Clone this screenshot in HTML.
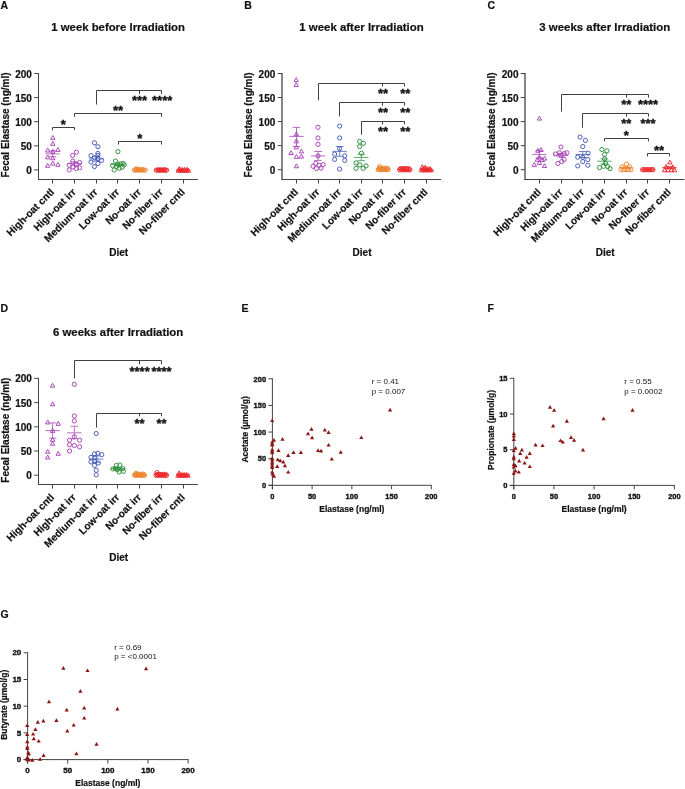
<!DOCTYPE html>
<html><head><meta charset="utf-8"><style>
html,body{margin:0;padding:0;background:#fff;}
svg{display:block;font-family:"Liberation Sans", sans-serif;}
svg{will-change:transform;}
</style></head><body>
<svg width="685" height="789" viewBox="0 0 685 789">
<rect width="685" height="789" fill="#fff"/>
<line x1="38.50" y1="73.00" x2="38.50" y2="180.00" stroke="#444444" stroke-width="1.0"/>
<line x1="38.00" y1="179.50" x2="197.80" y2="179.50" stroke="#444444" stroke-width="1.0"/>
<line x1="34.20" y1="169.90" x2="38.50" y2="169.90" stroke="#444444" stroke-width="1.0"/>
<text x="31.90" y="173.90" font-size="10" font-weight="bold" text-anchor="end" fill="#111" stroke="#111" stroke-width="0.2" >0</text>
<line x1="34.20" y1="145.80" x2="38.50" y2="145.80" stroke="#444444" stroke-width="1.0"/>
<text x="31.90" y="149.80" font-size="10" font-weight="bold" text-anchor="end" fill="#111" stroke="#111" stroke-width="0.2" >50</text>
<line x1="34.20" y1="121.70" x2="38.50" y2="121.70" stroke="#444444" stroke-width="1.0"/>
<text x="31.90" y="125.70" font-size="10" font-weight="bold" text-anchor="end" fill="#111" stroke="#111" stroke-width="0.2" >100</text>
<line x1="34.20" y1="97.60" x2="38.50" y2="97.60" stroke="#444444" stroke-width="1.0"/>
<text x="31.90" y="101.60" font-size="10" font-weight="bold" text-anchor="end" fill="#111" stroke="#111" stroke-width="0.2" >150</text>
<line x1="34.20" y1="73.50" x2="38.50" y2="73.50" stroke="#444444" stroke-width="1.0"/>
<text x="31.90" y="77.50" font-size="10" font-weight="bold" text-anchor="end" fill="#111" stroke="#111" stroke-width="0.2" >200</text>
<line x1="52.50" y1="179.50" x2="52.50" y2="183.50" stroke="#444444" stroke-width="1.0"/>
<text x="54.80" y="192.70" font-size="10.2" font-weight="bold" text-anchor="end" fill="#111" stroke="#111" stroke-width="0.2" transform="rotate(-45 54.80 192.70)">High-oat cntl</text>
<line x1="74.50" y1="179.50" x2="74.50" y2="183.50" stroke="#444444" stroke-width="1.0"/>
<text x="76.57" y="192.70" font-size="10.2" font-weight="bold" text-anchor="end" fill="#111" stroke="#111" stroke-width="0.2" transform="rotate(-45 76.57 192.70)">High-oat irr</text>
<line x1="96.50" y1="179.50" x2="96.50" y2="183.50" stroke="#444444" stroke-width="1.0"/>
<text x="98.34" y="192.70" font-size="10.2" font-weight="bold" text-anchor="end" fill="#111" stroke="#111" stroke-width="0.2" transform="rotate(-45 98.34 192.70)">Medium-oat irr</text>
<line x1="117.50" y1="179.50" x2="117.50" y2="183.50" stroke="#444444" stroke-width="1.0"/>
<text x="120.11" y="192.70" font-size="10.2" font-weight="bold" text-anchor="end" fill="#111" stroke="#111" stroke-width="0.2" transform="rotate(-45 120.11 192.70)">Low-oat irr</text>
<line x1="139.50" y1="179.50" x2="139.50" y2="183.50" stroke="#444444" stroke-width="1.0"/>
<text x="141.88" y="192.70" font-size="10.2" font-weight="bold" text-anchor="end" fill="#111" stroke="#111" stroke-width="0.2" transform="rotate(-45 141.88 192.70)">No-oat irr</text>
<line x1="161.50" y1="179.50" x2="161.50" y2="183.50" stroke="#444444" stroke-width="1.0"/>
<text x="163.65" y="192.70" font-size="10.2" font-weight="bold" text-anchor="end" fill="#111" stroke="#111" stroke-width="0.2" transform="rotate(-45 163.65 192.70)">No-fiber irr</text>
<line x1="183.50" y1="179.50" x2="183.50" y2="183.50" stroke="#444444" stroke-width="1.0"/>
<text x="185.42" y="192.70" font-size="10.2" font-weight="bold" text-anchor="end" fill="#111" stroke="#111" stroke-width="0.2" transform="rotate(-45 185.42 192.70)">No-fiber cntl</text>
<text x="8.60" y="124.90" font-size="10" font-weight="bold" text-anchor="middle" fill="#111" stroke="#111" stroke-width="0.2" transform="rotate(-90 8.60 124.90)">Fecal Elastase (ng/ml)</text>
<text x="118.65" y="256.10" font-size="10" font-weight="bold" text-anchor="middle" fill="#111" stroke="#111" stroke-width="0.2" >Diet</text>
<text x="118.15" y="31.40" font-size="11.35" font-weight="bold" text-anchor="middle" fill="#111" stroke="#111" stroke-width="0.2" >1 week before Irradiation</text>
<text x="0.40" y="8.80" font-size="10.5" font-weight="bold" text-anchor="start" fill="#111" stroke="#111" stroke-width="0.2" >A</text>
<path d="M52.80,135.50 L55.00,139.35 L50.60,139.35 Z" fill="none" stroke="#a540b5" stroke-width="0.95" stroke-linejoin="miter"/>
<path d="M52.80,141.50 L55.00,145.35 L50.60,145.35 Z" fill="none" stroke="#a540b5" stroke-width="0.95" stroke-linejoin="miter"/>
<path d="M47.70,148.20 L49.90,152.05 L45.50,152.05 Z" fill="none" stroke="#a540b5" stroke-width="0.95" stroke-linejoin="miter"/>
<path d="M52.80,149.40 L55.00,153.25 L50.60,153.25 Z" fill="none" stroke="#a540b5" stroke-width="0.95" stroke-linejoin="miter"/>
<path d="M57.90,147.50 L60.10,151.35 L55.70,151.35 Z" fill="none" stroke="#a540b5" stroke-width="0.95" stroke-linejoin="miter"/>
<path d="M47.70,155.00 L49.90,158.85 L45.50,158.85 Z" fill="none" stroke="#a540b5" stroke-width="0.95" stroke-linejoin="miter"/>
<path d="M52.80,155.90 L55.00,159.75 L50.60,159.75 Z" fill="none" stroke="#a540b5" stroke-width="0.95" stroke-linejoin="miter"/>
<path d="M47.70,163.40 L49.90,167.25 L45.50,167.25 Z" fill="none" stroke="#a540b5" stroke-width="0.95" stroke-linejoin="miter"/>
<path d="M52.80,161.20 L55.00,165.05 L50.60,165.05 Z" fill="none" stroke="#a540b5" stroke-width="0.95" stroke-linejoin="miter"/>
<path d="M57.90,162.40 L60.10,166.25 L55.70,166.25 Z" fill="none" stroke="#a540b5" stroke-width="0.95" stroke-linejoin="miter"/>
<g stroke="#a540b5" stroke-width="0.9" opacity="0.85">
<line x1="45.40" y1="153.90" x2="59.80" y2="153.90" stroke="#a540b5" stroke-width="0.9"/>
<line x1="48.80" y1="150.90" x2="56.40" y2="150.90" stroke="#a540b5" stroke-width="0.9"/>
<line x1="48.80" y1="156.80" x2="56.40" y2="156.80" stroke="#a540b5" stroke-width="0.9"/>
<line x1="52.60" y1="150.90" x2="52.60" y2="156.80" stroke="#a540b5" stroke-width="0.9"/>
</g>
<circle cx="76.40" cy="152.20" r="2.1" fill="none" stroke="#a540b5" stroke-width="0.95"/>
<circle cx="72.60" cy="155.50" r="2.1" fill="none" stroke="#a540b5" stroke-width="0.95"/>
<circle cx="72.80" cy="161.20" r="2.1" fill="none" stroke="#a540b5" stroke-width="0.95"/>
<circle cx="79.70" cy="162.50" r="2.1" fill="none" stroke="#a540b5" stroke-width="0.95"/>
<circle cx="69.20" cy="165.20" r="2.1" fill="none" stroke="#a540b5" stroke-width="0.95"/>
<circle cx="76.30" cy="164.40" r="2.1" fill="none" stroke="#a540b5" stroke-width="0.95"/>
<circle cx="73.00" cy="167.00" r="2.1" fill="none" stroke="#a540b5" stroke-width="0.95"/>
<circle cx="69.20" cy="169.90" r="2.1" fill="none" stroke="#a540b5" stroke-width="0.95"/>
<circle cx="76.30" cy="168.60" r="2.1" fill="none" stroke="#a540b5" stroke-width="0.95"/>
<circle cx="79.70" cy="167.80" r="2.1" fill="none" stroke="#a540b5" stroke-width="0.95"/>
<g stroke="#a540b5" stroke-width="0.9" opacity="0.85">
<line x1="67.17" y1="163.60" x2="81.57" y2="163.60" stroke="#a540b5" stroke-width="0.9"/>
<line x1="70.57" y1="161.80" x2="78.17" y2="161.80" stroke="#a540b5" stroke-width="0.9"/>
<line x1="70.57" y1="165.30" x2="78.17" y2="165.30" stroke="#a540b5" stroke-width="0.9"/>
<line x1="74.37" y1="161.80" x2="74.37" y2="165.30" stroke="#a540b5" stroke-width="0.9"/>
</g>
<circle cx="94.50" cy="142.80" r="2.1" fill="none" stroke="#4358b8" stroke-width="0.95"/>
<circle cx="97.90" cy="146.70" r="2.1" fill="none" stroke="#4358b8" stroke-width="0.95"/>
<circle cx="97.90" cy="153.40" r="2.1" fill="none" stroke="#4358b8" stroke-width="0.95"/>
<circle cx="91.00" cy="155.60" r="2.1" fill="none" stroke="#4358b8" stroke-width="0.95"/>
<circle cx="97.90" cy="155.40" r="2.1" fill="none" stroke="#4358b8" stroke-width="0.95"/>
<circle cx="94.50" cy="157.90" r="2.1" fill="none" stroke="#4358b8" stroke-width="0.95"/>
<circle cx="97.90" cy="158.50" r="2.1" fill="none" stroke="#4358b8" stroke-width="0.95"/>
<circle cx="101.60" cy="160.30" r="2.1" fill="none" stroke="#4358b8" stroke-width="0.95"/>
<circle cx="91.00" cy="162.10" r="2.1" fill="none" stroke="#4358b8" stroke-width="0.95"/>
<circle cx="97.90" cy="163.50" r="2.1" fill="none" stroke="#4358b8" stroke-width="0.95"/>
<circle cx="94.50" cy="166.60" r="2.1" fill="none" stroke="#4358b8" stroke-width="0.95"/>
<g stroke="#4358b8" stroke-width="0.9" opacity="0.85">
<line x1="88.94" y1="158.90" x2="103.34" y2="158.90" stroke="#4358b8" stroke-width="0.9"/>
<line x1="92.34" y1="156.60" x2="99.94" y2="156.60" stroke="#4358b8" stroke-width="0.9"/>
<line x1="92.34" y1="161.20" x2="99.94" y2="161.20" stroke="#4358b8" stroke-width="0.9"/>
<line x1="96.14" y1="156.60" x2="96.14" y2="161.20" stroke="#4358b8" stroke-width="0.9"/>
</g>
<circle cx="117.90" cy="151.60" r="2.1" fill="none" stroke="#2b8e39" stroke-width="0.95"/>
<circle cx="115.50" cy="161.00" r="2.1" fill="none" stroke="#2b8e39" stroke-width="0.95"/>
<circle cx="112.50" cy="165.60" r="2.1" fill="none" stroke="#2b8e39" stroke-width="0.95"/>
<circle cx="114.10" cy="170.00" r="2.1" fill="none" stroke="#2b8e39" stroke-width="0.95"/>
<circle cx="116.50" cy="166.60" r="2.1" fill="none" stroke="#2b8e39" stroke-width="0.95"/>
<circle cx="119.30" cy="168.40" r="2.1" fill="none" stroke="#2b8e39" stroke-width="0.95"/>
<circle cx="120.40" cy="163.80" r="2.1" fill="none" stroke="#2b8e39" stroke-width="0.95"/>
<circle cx="123.20" cy="163.50" r="2.1" fill="none" stroke="#2b8e39" stroke-width="0.95"/>
<circle cx="124.20" cy="164.90" r="2.1" fill="none" stroke="#2b8e39" stroke-width="0.95"/>
<circle cx="122.10" cy="167.30" r="2.1" fill="none" stroke="#2b8e39" stroke-width="0.95"/>
<circle cx="117.60" cy="164.20" r="2.1" fill="none" stroke="#2b8e39" stroke-width="0.95"/>
<g stroke="#2b8e39" stroke-width="0.9" opacity="0.85">
<line x1="110.71" y1="164.60" x2="125.11" y2="164.60" stroke="#2b8e39" stroke-width="0.9"/>
<line x1="114.11" y1="163.20" x2="121.71" y2="163.20" stroke="#2b8e39" stroke-width="0.9"/>
<line x1="114.11" y1="166.00" x2="121.71" y2="166.00" stroke="#2b8e39" stroke-width="0.9"/>
<line x1="117.91" y1="163.20" x2="117.91" y2="166.00" stroke="#2b8e39" stroke-width="0.9"/>
</g>
<circle cx="134.30" cy="170.10" r="2.1" fill="none" stroke="#ec8530" stroke-width="0.95"/>
<circle cx="136.13" cy="170.10" r="2.1" fill="none" stroke="#ec8530" stroke-width="0.95"/>
<circle cx="137.97" cy="170.10" r="2.1" fill="none" stroke="#ec8530" stroke-width="0.95"/>
<circle cx="139.80" cy="170.10" r="2.1" fill="none" stroke="#ec8530" stroke-width="0.95"/>
<circle cx="141.63" cy="170.10" r="2.1" fill="none" stroke="#ec8530" stroke-width="0.95"/>
<circle cx="143.47" cy="170.10" r="2.1" fill="none" stroke="#ec8530" stroke-width="0.95"/>
<circle cx="145.30" cy="170.10" r="2.1" fill="none" stroke="#ec8530" stroke-width="0.95"/>
<circle cx="136.30" cy="169.50" r="2.1" fill="none" stroke="#ec8530" stroke-width="0.95"/>
<circle cx="139.30" cy="169.50" r="2.1" fill="none" stroke="#ec8530" stroke-width="0.95"/>
<circle cx="142.30" cy="169.50" r="2.1" fill="none" stroke="#ec8530" stroke-width="0.95"/>
<circle cx="136.50" cy="168.90" r="2.1" fill="none" stroke="#ec8530" stroke-width="0.95"/>
<g stroke="#ec8530" stroke-width="0.9" opacity="0.85">
<line x1="132.48" y1="169.80" x2="146.88" y2="169.80" stroke="#ec8530" stroke-width="0.9"/>
<line x1="135.88" y1="169.60" x2="143.48" y2="169.60" stroke="#ec8530" stroke-width="0.9"/>
<line x1="135.88" y1="170.00" x2="143.48" y2="170.00" stroke="#ec8530" stroke-width="0.9"/>
<line x1="139.68" y1="169.60" x2="139.68" y2="170.00" stroke="#ec8530" stroke-width="0.9"/>
</g>
<circle cx="156.30" cy="170.20" r="2.1" fill="none" stroke="#ec2a2e" stroke-width="0.95"/>
<circle cx="158.02" cy="170.20" r="2.1" fill="none" stroke="#ec2a2e" stroke-width="0.95"/>
<circle cx="159.73" cy="170.20" r="2.1" fill="none" stroke="#ec2a2e" stroke-width="0.95"/>
<circle cx="161.45" cy="170.20" r="2.1" fill="none" stroke="#ec2a2e" stroke-width="0.95"/>
<circle cx="163.17" cy="170.20" r="2.1" fill="none" stroke="#ec2a2e" stroke-width="0.95"/>
<circle cx="164.88" cy="170.20" r="2.1" fill="none" stroke="#ec2a2e" stroke-width="0.95"/>
<circle cx="166.60" cy="170.20" r="2.1" fill="none" stroke="#ec2a2e" stroke-width="0.95"/>
<circle cx="158.30" cy="169.80" r="2.1" fill="none" stroke="#ec2a2e" stroke-width="0.95"/>
<circle cx="161.45" cy="169.80" r="2.1" fill="none" stroke="#ec2a2e" stroke-width="0.95"/>
<circle cx="164.60" cy="169.80" r="2.1" fill="none" stroke="#ec2a2e" stroke-width="0.95"/>
<g stroke="#ec2a2e" stroke-width="0.9" opacity="0.85">
<line x1="154.25" y1="169.80" x2="168.65" y2="169.80" stroke="#ec2a2e" stroke-width="0.9"/>
<line x1="157.65" y1="169.60" x2="165.25" y2="169.60" stroke="#ec2a2e" stroke-width="0.9"/>
<line x1="157.65" y1="170.00" x2="165.25" y2="170.00" stroke="#ec2a2e" stroke-width="0.9"/>
<line x1="161.45" y1="169.60" x2="161.45" y2="170.00" stroke="#ec2a2e" stroke-width="0.9"/>
</g>
<path d="M178.30,168.30 L180.50,172.15 L176.10,172.15 Z" fill="none" stroke="#ec2a2e" stroke-width="0.95" stroke-linejoin="miter"/>
<path d="M180.34,168.30 L182.54,172.15 L178.14,172.15 Z" fill="none" stroke="#ec2a2e" stroke-width="0.95" stroke-linejoin="miter"/>
<path d="M182.38,168.30 L184.58,172.15 L180.18,172.15 Z" fill="none" stroke="#ec2a2e" stroke-width="0.95" stroke-linejoin="miter"/>
<path d="M184.42,168.30 L186.62,172.15 L182.22,172.15 Z" fill="none" stroke="#ec2a2e" stroke-width="0.95" stroke-linejoin="miter"/>
<path d="M186.46,168.30 L188.66,172.15 L184.26,172.15 Z" fill="none" stroke="#ec2a2e" stroke-width="0.95" stroke-linejoin="miter"/>
<path d="M188.50,168.30 L190.70,172.15 L186.30,172.15 Z" fill="none" stroke="#ec2a2e" stroke-width="0.95" stroke-linejoin="miter"/>
<path d="M179.50,167.30 L181.70,171.15 L177.30,171.15 Z" fill="none" stroke="#ec2a2e" stroke-width="0.95" stroke-linejoin="miter"/>
<path d="M182.00,167.30 L184.20,171.15 L179.80,171.15 Z" fill="none" stroke="#ec2a2e" stroke-width="0.95" stroke-linejoin="miter"/>
<path d="M184.50,167.30 L186.70,171.15 L182.30,171.15 Z" fill="none" stroke="#ec2a2e" stroke-width="0.95" stroke-linejoin="miter"/>
<path d="M187.00,167.30 L189.20,171.15 L184.80,171.15 Z" fill="none" stroke="#ec2a2e" stroke-width="0.95" stroke-linejoin="miter"/>
<path d="M179.30,166.60 L181.50,170.45 L177.10,170.45 Z" fill="none" stroke="#ec2a2e" stroke-width="0.95" stroke-linejoin="miter"/>
<g stroke="#ec2a2e" stroke-width="0.9" opacity="0.85">
<line x1="176.02" y1="169.80" x2="190.42" y2="169.80" stroke="#ec2a2e" stroke-width="0.9"/>
<line x1="179.42" y1="169.60" x2="187.02" y2="169.60" stroke="#ec2a2e" stroke-width="0.9"/>
<line x1="179.42" y1="170.00" x2="187.02" y2="170.00" stroke="#ec2a2e" stroke-width="0.9"/>
<line x1="183.22" y1="169.60" x2="183.22" y2="170.00" stroke="#ec2a2e" stroke-width="0.9"/>
</g>
<path d="M52.50,130.20 L52.50,127.50 L74.50,127.50 L74.50,130.20" fill="none" stroke="#404040" stroke-width="1.0"/>
<path d="M74.50,116.80 L74.50,113.50 L161.50,113.50 L161.50,116.80" fill="none" stroke="#404040" stroke-width="1.0"/>
<path d="M96.50,104.50 L96.50,90.50 L161.50,90.50 L161.50,94.00" fill="none" stroke="#404040" stroke-width="1.0"/>
<line x1="139.50" y1="90.50" x2="139.50" y2="94.00" stroke="#404040" stroke-width="1.0"/>
<path d="M118.50,144.50 L118.50,141.50 L161.50,141.50 L161.50,144.50" fill="none" stroke="#404040" stroke-width="1.0"/>
<text x="63.40" y="128.90" font-size="13" font-weight="bold" text-anchor="middle" fill="#111" stroke="#111" stroke-width="0.35" >*</text>
<text x="118.00" y="115.20" font-size="13" font-weight="bold" text-anchor="middle" fill="#111" stroke="#111" stroke-width="0.35" >**</text>
<text x="139.60" y="104.90" font-size="13" font-weight="bold" text-anchor="middle" fill="#111" stroke="#111" stroke-width="0.35" >***</text>
<text x="162.20" y="104.90" font-size="13" font-weight="bold" text-anchor="middle" fill="#111" stroke="#111" stroke-width="0.35" >****</text>
<text x="139.70" y="143.30" font-size="13" font-weight="bold" text-anchor="middle" fill="#111" stroke="#111" stroke-width="0.35" >*</text>
<line x1="282.00" y1="73.00" x2="282.00" y2="180.00" stroke="#444444" stroke-width="1.3"/>
<line x1="281.50" y1="179.50" x2="441.10" y2="179.50" stroke="#444444" stroke-width="1.0"/>
<line x1="277.70" y1="169.70" x2="282.00" y2="169.70" stroke="#444444" stroke-width="1.0"/>
<text x="275.30" y="173.70" font-size="10" font-weight="bold" text-anchor="end" fill="#111" stroke="#111" stroke-width="0.2" >0</text>
<line x1="277.70" y1="145.65" x2="282.00" y2="145.65" stroke="#444444" stroke-width="1.0"/>
<text x="275.30" y="149.65" font-size="10" font-weight="bold" text-anchor="end" fill="#111" stroke="#111" stroke-width="0.2" >50</text>
<line x1="277.70" y1="121.60" x2="282.00" y2="121.60" stroke="#444444" stroke-width="1.0"/>
<text x="275.30" y="125.60" font-size="10" font-weight="bold" text-anchor="end" fill="#111" stroke="#111" stroke-width="0.2" >100</text>
<line x1="277.70" y1="97.55" x2="282.00" y2="97.55" stroke="#444444" stroke-width="1.0"/>
<text x="275.30" y="101.55" font-size="10" font-weight="bold" text-anchor="end" fill="#111" stroke="#111" stroke-width="0.2" >150</text>
<line x1="277.70" y1="73.50" x2="282.00" y2="73.50" stroke="#444444" stroke-width="1.0"/>
<text x="275.30" y="77.50" font-size="10" font-weight="bold" text-anchor="end" fill="#111" stroke="#111" stroke-width="0.2" >200</text>
<line x1="296.50" y1="179.50" x2="296.50" y2="183.50" stroke="#444444" stroke-width="1.0"/>
<text x="298.70" y="192.70" font-size="10.2" font-weight="bold" text-anchor="end" fill="#111" stroke="#111" stroke-width="0.2" transform="rotate(-45 298.70 192.70)">High-oat cntl</text>
<line x1="318.50" y1="179.50" x2="318.50" y2="183.50" stroke="#444444" stroke-width="1.0"/>
<text x="320.30" y="192.70" font-size="10.2" font-weight="bold" text-anchor="end" fill="#111" stroke="#111" stroke-width="0.2" transform="rotate(-45 320.30 192.70)">High-oat irr</text>
<line x1="339.50" y1="179.50" x2="339.50" y2="183.50" stroke="#444444" stroke-width="1.0"/>
<text x="341.90" y="192.70" font-size="10.2" font-weight="bold" text-anchor="end" fill="#111" stroke="#111" stroke-width="0.2" transform="rotate(-45 341.90 192.70)">Medium-oat irr</text>
<line x1="361.50" y1="179.50" x2="361.50" y2="183.50" stroke="#444444" stroke-width="1.0"/>
<text x="363.50" y="192.70" font-size="10.2" font-weight="bold" text-anchor="end" fill="#111" stroke="#111" stroke-width="0.2" transform="rotate(-45 363.50 192.70)">Low-oat irr</text>
<line x1="382.50" y1="179.50" x2="382.50" y2="183.50" stroke="#444444" stroke-width="1.0"/>
<text x="385.10" y="192.70" font-size="10.2" font-weight="bold" text-anchor="end" fill="#111" stroke="#111" stroke-width="0.2" transform="rotate(-45 385.10 192.70)">No-oat irr</text>
<line x1="404.50" y1="179.50" x2="404.50" y2="183.50" stroke="#444444" stroke-width="1.0"/>
<text x="406.70" y="192.70" font-size="10.2" font-weight="bold" text-anchor="end" fill="#111" stroke="#111" stroke-width="0.2" transform="rotate(-45 406.70 192.70)">No-fiber irr</text>
<line x1="426.50" y1="179.50" x2="426.50" y2="183.50" stroke="#444444" stroke-width="1.0"/>
<text x="428.30" y="192.70" font-size="10.2" font-weight="bold" text-anchor="end" fill="#111" stroke="#111" stroke-width="0.2" transform="rotate(-45 428.30 192.70)">No-fiber cntl</text>
<text x="251.60" y="124.90" font-size="10" font-weight="bold" text-anchor="middle" fill="#111" stroke="#111" stroke-width="0.2" transform="rotate(-90 251.60 124.90)">Fecal Elastase (ng/ml)</text>
<text x="362.05" y="256.10" font-size="10" font-weight="bold" text-anchor="middle" fill="#111" stroke="#111" stroke-width="0.2" >Diet</text>
<text x="361.55" y="31.40" font-size="11.43" font-weight="bold" text-anchor="middle" fill="#111" stroke="#111" stroke-width="0.2" >1 week after Irradiation</text>
<text x="244.30" y="8.80" font-size="10.5" font-weight="bold" text-anchor="start" fill="#111" stroke="#111" stroke-width="0.2" >B</text>
<path d="M296.20,77.80 L298.40,81.65 L294.00,81.65 Z" fill="none" stroke="#a540b5" stroke-width="0.95" stroke-linejoin="miter"/>
<path d="M296.20,82.60 L298.40,86.45 L294.00,86.45 Z" fill="none" stroke="#a540b5" stroke-width="0.95" stroke-linejoin="miter"/>
<path d="M296.40,131.90 L298.60,135.75 L294.20,135.75 Z" fill="none" stroke="#a540b5" stroke-width="0.95" stroke-linejoin="miter"/>
<path d="M296.40,139.00 L298.60,142.85 L294.20,142.85 Z" fill="none" stroke="#a540b5" stroke-width="0.95" stroke-linejoin="miter"/>
<path d="M296.40,145.10 L298.60,148.95 L294.20,148.95 Z" fill="none" stroke="#a540b5" stroke-width="0.95" stroke-linejoin="miter"/>
<path d="M291.10,150.70 L293.30,154.55 L288.90,154.55 Z" fill="none" stroke="#a540b5" stroke-width="0.95" stroke-linejoin="miter"/>
<path d="M301.40,149.10 L303.60,152.95 L299.20,152.95 Z" fill="none" stroke="#a540b5" stroke-width="0.95" stroke-linejoin="miter"/>
<path d="M296.40,154.50 L298.60,158.35 L294.20,158.35 Z" fill="none" stroke="#a540b5" stroke-width="0.95" stroke-linejoin="miter"/>
<path d="M301.40,154.20 L303.60,158.05 L299.20,158.05 Z" fill="none" stroke="#a540b5" stroke-width="0.95" stroke-linejoin="miter"/>
<path d="M296.40,163.90 L298.60,167.75 L294.20,167.75 Z" fill="none" stroke="#a540b5" stroke-width="0.95" stroke-linejoin="miter"/>
<g stroke="#a540b5" stroke-width="0.9" opacity="0.85">
<line x1="289.30" y1="136.40" x2="303.70" y2="136.40" stroke="#a540b5" stroke-width="0.9"/>
<line x1="292.70" y1="127.40" x2="300.30" y2="127.40" stroke="#a540b5" stroke-width="0.9"/>
<line x1="292.70" y1="146.50" x2="300.30" y2="146.50" stroke="#a540b5" stroke-width="0.9"/>
<line x1="296.50" y1="127.40" x2="296.50" y2="146.50" stroke="#a540b5" stroke-width="0.9"/>
</g>
<circle cx="318.00" cy="127.30" r="2.1" fill="none" stroke="#a540b5" stroke-width="0.95"/>
<circle cx="318.00" cy="138.00" r="2.1" fill="none" stroke="#a540b5" stroke-width="0.95"/>
<circle cx="318.00" cy="144.40" r="2.1" fill="none" stroke="#a540b5" stroke-width="0.95"/>
<circle cx="318.00" cy="155.90" r="2.1" fill="none" stroke="#a540b5" stroke-width="0.95"/>
<circle cx="313.00" cy="166.30" r="2.1" fill="none" stroke="#a540b5" stroke-width="0.95"/>
<circle cx="315.80" cy="163.20" r="2.1" fill="none" stroke="#a540b5" stroke-width="0.95"/>
<circle cx="319.20" cy="165.30" r="2.1" fill="none" stroke="#a540b5" stroke-width="0.95"/>
<circle cx="323.10" cy="164.60" r="2.1" fill="none" stroke="#a540b5" stroke-width="0.95"/>
<circle cx="321.00" cy="168.10" r="2.1" fill="none" stroke="#a540b5" stroke-width="0.95"/>
<circle cx="316.50" cy="168.50" r="2.1" fill="none" stroke="#a540b5" stroke-width="0.95"/>
<g stroke="#a540b5" stroke-width="0.9" opacity="0.85">
<line x1="310.90" y1="155.90" x2="325.30" y2="155.90" stroke="#a540b5" stroke-width="0.9"/>
<line x1="314.30" y1="151.50" x2="321.90" y2="151.50" stroke="#a540b5" stroke-width="0.9"/>
<line x1="314.30" y1="160.40" x2="321.90" y2="160.40" stroke="#a540b5" stroke-width="0.9"/>
<line x1="318.10" y1="151.50" x2="318.10" y2="160.40" stroke="#a540b5" stroke-width="0.9"/>
</g>
<circle cx="339.60" cy="126.10" r="2.1" fill="none" stroke="#4358b8" stroke-width="0.95"/>
<circle cx="339.60" cy="138.00" r="2.1" fill="none" stroke="#4358b8" stroke-width="0.95"/>
<circle cx="339.60" cy="148.60" r="2.1" fill="none" stroke="#4358b8" stroke-width="0.95"/>
<circle cx="334.60" cy="154.10" r="2.1" fill="none" stroke="#4358b8" stroke-width="0.95"/>
<circle cx="334.60" cy="159.40" r="2.1" fill="none" stroke="#4358b8" stroke-width="0.95"/>
<circle cx="344.70" cy="155.90" r="2.1" fill="none" stroke="#4358b8" stroke-width="0.95"/>
<circle cx="344.70" cy="160.40" r="2.1" fill="none" stroke="#4358b8" stroke-width="0.95"/>
<circle cx="339.60" cy="169.10" r="2.1" fill="none" stroke="#4358b8" stroke-width="0.95"/>
<g stroke="#4358b8" stroke-width="0.9" opacity="0.85">
<line x1="332.50" y1="151.40" x2="346.90" y2="151.40" stroke="#4358b8" stroke-width="0.9"/>
<line x1="335.90" y1="146.50" x2="343.50" y2="146.50" stroke="#4358b8" stroke-width="0.9"/>
<line x1="335.90" y1="156.30" x2="343.50" y2="156.30" stroke="#4358b8" stroke-width="0.9"/>
<line x1="339.70" y1="146.50" x2="339.70" y2="156.30" stroke="#4358b8" stroke-width="0.9"/>
</g>
<circle cx="359.60" cy="141.40" r="2.1" fill="none" stroke="#2b8e39" stroke-width="0.95"/>
<circle cx="363.40" cy="143.30" r="2.1" fill="none" stroke="#2b8e39" stroke-width="0.95"/>
<circle cx="359.60" cy="146.50" r="2.1" fill="none" stroke="#2b8e39" stroke-width="0.95"/>
<circle cx="361.40" cy="153.20" r="2.1" fill="none" stroke="#2b8e39" stroke-width="0.95"/>
<circle cx="356.10" cy="162.90" r="2.1" fill="none" stroke="#2b8e39" stroke-width="0.95"/>
<circle cx="359.80" cy="164.90" r="2.1" fill="none" stroke="#2b8e39" stroke-width="0.95"/>
<circle cx="366.10" cy="165.90" r="2.1" fill="none" stroke="#2b8e39" stroke-width="0.95"/>
<circle cx="356.10" cy="168.30" r="2.1" fill="none" stroke="#2b8e39" stroke-width="0.95"/>
<circle cx="363.10" cy="168.30" r="2.1" fill="none" stroke="#2b8e39" stroke-width="0.95"/>
<g stroke="#2b8e39" stroke-width="0.9" opacity="0.85">
<line x1="354.10" y1="157.40" x2="368.50" y2="157.40" stroke="#2b8e39" stroke-width="0.9"/>
<line x1="357.50" y1="154.20" x2="365.10" y2="154.20" stroke="#2b8e39" stroke-width="0.9"/>
<line x1="357.50" y1="160.70" x2="365.10" y2="160.70" stroke="#2b8e39" stroke-width="0.9"/>
<line x1="361.30" y1="154.20" x2="361.30" y2="160.70" stroke="#2b8e39" stroke-width="0.9"/>
</g>
<circle cx="378.20" cy="169.60" r="2.1" fill="none" stroke="#ec8530" stroke-width="0.95"/>
<circle cx="379.87" cy="169.60" r="2.1" fill="none" stroke="#ec8530" stroke-width="0.95"/>
<circle cx="381.53" cy="169.60" r="2.1" fill="none" stroke="#ec8530" stroke-width="0.95"/>
<circle cx="383.20" cy="169.60" r="2.1" fill="none" stroke="#ec8530" stroke-width="0.95"/>
<circle cx="384.87" cy="169.60" r="2.1" fill="none" stroke="#ec8530" stroke-width="0.95"/>
<circle cx="386.53" cy="169.60" r="2.1" fill="none" stroke="#ec8530" stroke-width="0.95"/>
<circle cx="388.20" cy="169.60" r="2.1" fill="none" stroke="#ec8530" stroke-width="0.95"/>
<circle cx="379.40" cy="168.30" r="2.1" fill="none" stroke="#ec8530" stroke-width="0.95"/>
<circle cx="381.40" cy="168.30" r="2.1" fill="none" stroke="#ec8530" stroke-width="0.95"/>
<circle cx="383.40" cy="168.30" r="2.1" fill="none" stroke="#ec8530" stroke-width="0.95"/>
<circle cx="385.40" cy="168.30" r="2.1" fill="none" stroke="#ec8530" stroke-width="0.95"/>
<circle cx="387.40" cy="168.30" r="2.1" fill="none" stroke="#ec8530" stroke-width="0.95"/>
<circle cx="379.60" cy="166.60" r="2.1" fill="none" stroke="#ec8530" stroke-width="0.95"/>
<g stroke="#ec8530" stroke-width="0.9" opacity="0.85">
<line x1="375.70" y1="169.50" x2="390.10" y2="169.50" stroke="#ec8530" stroke-width="0.9"/>
<line x1="379.10" y1="169.30" x2="386.70" y2="169.30" stroke="#ec8530" stroke-width="0.9"/>
<line x1="379.10" y1="169.70" x2="386.70" y2="169.70" stroke="#ec8530" stroke-width="0.9"/>
<line x1="382.90" y1="169.30" x2="382.90" y2="169.70" stroke="#ec8530" stroke-width="0.9"/>
</g>
<circle cx="399.60" cy="169.80" r="2.1" fill="none" stroke="#ec2a2e" stroke-width="0.95"/>
<circle cx="401.33" cy="169.80" r="2.1" fill="none" stroke="#ec2a2e" stroke-width="0.95"/>
<circle cx="403.07" cy="169.80" r="2.1" fill="none" stroke="#ec2a2e" stroke-width="0.95"/>
<circle cx="404.80" cy="169.80" r="2.1" fill="none" stroke="#ec2a2e" stroke-width="0.95"/>
<circle cx="406.53" cy="169.80" r="2.1" fill="none" stroke="#ec2a2e" stroke-width="0.95"/>
<circle cx="408.27" cy="169.80" r="2.1" fill="none" stroke="#ec2a2e" stroke-width="0.95"/>
<circle cx="410.00" cy="169.80" r="2.1" fill="none" stroke="#ec2a2e" stroke-width="0.95"/>
<circle cx="400.60" cy="168.60" r="2.1" fill="none" stroke="#ec2a2e" stroke-width="0.95"/>
<circle cx="402.60" cy="168.60" r="2.1" fill="none" stroke="#ec2a2e" stroke-width="0.95"/>
<circle cx="404.60" cy="168.60" r="2.1" fill="none" stroke="#ec2a2e" stroke-width="0.95"/>
<circle cx="406.60" cy="168.60" r="2.1" fill="none" stroke="#ec2a2e" stroke-width="0.95"/>
<circle cx="408.60" cy="168.60" r="2.1" fill="none" stroke="#ec2a2e" stroke-width="0.95"/>
<g stroke="#ec2a2e" stroke-width="0.9" opacity="0.85">
<line x1="397.30" y1="169.60" x2="411.70" y2="169.60" stroke="#ec2a2e" stroke-width="0.9"/>
<line x1="400.70" y1="169.40" x2="408.30" y2="169.40" stroke="#ec2a2e" stroke-width="0.9"/>
<line x1="400.70" y1="169.80" x2="408.30" y2="169.80" stroke="#ec2a2e" stroke-width="0.9"/>
<line x1="404.50" y1="169.40" x2="404.50" y2="169.80" stroke="#ec2a2e" stroke-width="0.9"/>
</g>
<path d="M421.50,167.90 L423.70,171.75 L419.30,171.75 Z" fill="none" stroke="#ec2a2e" stroke-width="0.95" stroke-linejoin="miter"/>
<path d="M423.46,167.90 L425.66,171.75 L421.26,171.75 Z" fill="none" stroke="#ec2a2e" stroke-width="0.95" stroke-linejoin="miter"/>
<path d="M425.42,167.90 L427.62,171.75 L423.22,171.75 Z" fill="none" stroke="#ec2a2e" stroke-width="0.95" stroke-linejoin="miter"/>
<path d="M427.38,167.90 L429.58,171.75 L425.18,171.75 Z" fill="none" stroke="#ec2a2e" stroke-width="0.95" stroke-linejoin="miter"/>
<path d="M429.34,167.90 L431.54,171.75 L427.14,171.75 Z" fill="none" stroke="#ec2a2e" stroke-width="0.95" stroke-linejoin="miter"/>
<path d="M431.30,167.90 L433.50,171.75 L429.10,171.75 Z" fill="none" stroke="#ec2a2e" stroke-width="0.95" stroke-linejoin="miter"/>
<path d="M423.00,166.50 L425.20,170.35 L420.80,170.35 Z" fill="none" stroke="#ec2a2e" stroke-width="0.95" stroke-linejoin="miter"/>
<path d="M425.33,166.50 L427.53,170.35 L423.13,170.35 Z" fill="none" stroke="#ec2a2e" stroke-width="0.95" stroke-linejoin="miter"/>
<path d="M427.67,166.50 L429.87,170.35 L425.47,170.35 Z" fill="none" stroke="#ec2a2e" stroke-width="0.95" stroke-linejoin="miter"/>
<path d="M430.00,166.50 L432.20,170.35 L427.80,170.35 Z" fill="none" stroke="#ec2a2e" stroke-width="0.95" stroke-linejoin="miter"/>
<path d="M422.20,164.70 L424.40,168.55 L420.00,168.55 Z" fill="none" stroke="#ec2a2e" stroke-width="0.95" stroke-linejoin="miter"/>
<path d="M425.20,165.30 L427.40,169.15 L423.00,169.15 Z" fill="none" stroke="#ec2a2e" stroke-width="0.95" stroke-linejoin="miter"/>
<g stroke="#ec2a2e" stroke-width="0.9" opacity="0.85">
<line x1="418.90" y1="169.50" x2="433.30" y2="169.50" stroke="#ec2a2e" stroke-width="0.9"/>
<line x1="422.30" y1="169.30" x2="429.90" y2="169.30" stroke="#ec2a2e" stroke-width="0.9"/>
<line x1="422.30" y1="169.70" x2="429.90" y2="169.70" stroke="#ec2a2e" stroke-width="0.9"/>
<line x1="426.10" y1="169.30" x2="426.10" y2="169.70" stroke="#ec2a2e" stroke-width="0.9"/>
</g>
<path d="M318.50,100.30 L318.50,83.50 L404.50,83.50 L404.50,86.50" fill="none" stroke="#404040" stroke-width="1.0"/>
<line x1="382.50" y1="83.50" x2="382.50" y2="86.50" stroke="#404040" stroke-width="1.0"/>
<path d="M339.50,116.40 L339.50,102.50 L404.50,102.50 L404.50,105.70" fill="none" stroke="#404040" stroke-width="1.0"/>
<line x1="382.50" y1="102.50" x2="382.50" y2="105.70" stroke="#404040" stroke-width="1.0"/>
<path d="M361.50,134.80 L361.50,121.50 L404.50,121.50 L404.50,124.40" fill="none" stroke="#404040" stroke-width="1.0"/>
<line x1="382.50" y1="121.50" x2="382.50" y2="124.40" stroke="#404040" stroke-width="1.0"/>
<text x="383.00" y="97.60" font-size="13" font-weight="bold" text-anchor="middle" fill="#111" stroke="#111" stroke-width="0.35" >**</text>
<text x="405.30" y="97.60" font-size="13" font-weight="bold" text-anchor="middle" fill="#111" stroke="#111" stroke-width="0.35" >**</text>
<text x="383.00" y="117.00" font-size="13" font-weight="bold" text-anchor="middle" fill="#111" stroke="#111" stroke-width="0.35" >**</text>
<text x="405.30" y="117.00" font-size="13" font-weight="bold" text-anchor="middle" fill="#111" stroke="#111" stroke-width="0.35" >**</text>
<text x="383.00" y="135.70" font-size="13" font-weight="bold" text-anchor="middle" fill="#111" stroke="#111" stroke-width="0.35" >**</text>
<text x="405.30" y="135.70" font-size="13" font-weight="bold" text-anchor="middle" fill="#111" stroke="#111" stroke-width="0.35" >**</text>
<line x1="525.00" y1="73.00" x2="525.00" y2="180.00" stroke="#444444" stroke-width="1.3"/>
<line x1="524.50" y1="179.50" x2="684.50" y2="179.50" stroke="#444444" stroke-width="1.0"/>
<line x1="520.70" y1="169.70" x2="525.00" y2="169.70" stroke="#444444" stroke-width="1.0"/>
<text x="518.50" y="173.70" font-size="10" font-weight="bold" text-anchor="end" fill="#111" stroke="#111" stroke-width="0.2" >0</text>
<line x1="520.70" y1="145.65" x2="525.00" y2="145.65" stroke="#444444" stroke-width="1.0"/>
<text x="518.50" y="149.65" font-size="10" font-weight="bold" text-anchor="end" fill="#111" stroke="#111" stroke-width="0.2" >50</text>
<line x1="520.70" y1="121.60" x2="525.00" y2="121.60" stroke="#444444" stroke-width="1.0"/>
<text x="518.50" y="125.60" font-size="10" font-weight="bold" text-anchor="end" fill="#111" stroke="#111" stroke-width="0.2" >100</text>
<line x1="520.70" y1="97.55" x2="525.00" y2="97.55" stroke="#444444" stroke-width="1.0"/>
<text x="518.50" y="101.55" font-size="10" font-weight="bold" text-anchor="end" fill="#111" stroke="#111" stroke-width="0.2" >150</text>
<line x1="520.70" y1="73.50" x2="525.00" y2="73.50" stroke="#444444" stroke-width="1.0"/>
<text x="518.50" y="77.50" font-size="10" font-weight="bold" text-anchor="end" fill="#111" stroke="#111" stroke-width="0.2" >200</text>
<line x1="539.50" y1="179.50" x2="539.50" y2="183.50" stroke="#444444" stroke-width="1.0"/>
<text x="541.60" y="192.80" font-size="10.2" font-weight="bold" text-anchor="end" fill="#111" stroke="#111" stroke-width="0.2" transform="rotate(-45 541.60 192.80)">High-oat cntl</text>
<line x1="561.50" y1="179.50" x2="561.50" y2="183.50" stroke="#444444" stroke-width="1.0"/>
<text x="563.27" y="192.80" font-size="10.2" font-weight="bold" text-anchor="end" fill="#111" stroke="#111" stroke-width="0.2" transform="rotate(-45 563.27 192.80)">High-oat irr</text>
<line x1="582.50" y1="179.50" x2="582.50" y2="183.50" stroke="#444444" stroke-width="1.0"/>
<text x="584.94" y="192.80" font-size="10.2" font-weight="bold" text-anchor="end" fill="#111" stroke="#111" stroke-width="0.2" transform="rotate(-45 584.94 192.80)">Medium-oat irr</text>
<line x1="604.50" y1="179.50" x2="604.50" y2="183.50" stroke="#444444" stroke-width="1.0"/>
<text x="606.61" y="192.80" font-size="10.2" font-weight="bold" text-anchor="end" fill="#111" stroke="#111" stroke-width="0.2" transform="rotate(-45 606.61 192.80)">Low-oat irr</text>
<line x1="626.50" y1="179.50" x2="626.50" y2="183.50" stroke="#444444" stroke-width="1.0"/>
<text x="628.28" y="192.80" font-size="10.2" font-weight="bold" text-anchor="end" fill="#111" stroke="#111" stroke-width="0.2" transform="rotate(-45 628.28 192.80)">No-oat irr</text>
<line x1="647.50" y1="179.50" x2="647.50" y2="183.50" stroke="#444444" stroke-width="1.0"/>
<text x="649.95" y="192.80" font-size="10.2" font-weight="bold" text-anchor="end" fill="#111" stroke="#111" stroke-width="0.2" transform="rotate(-45 649.95 192.80)">No-fiber irr</text>
<line x1="669.50" y1="179.50" x2="669.50" y2="183.50" stroke="#444444" stroke-width="1.0"/>
<text x="671.62" y="192.80" font-size="10.2" font-weight="bold" text-anchor="end" fill="#111" stroke="#111" stroke-width="0.2" transform="rotate(-45 671.62 192.80)">No-fiber cntl</text>
<text x="494.60" y="124.90" font-size="10" font-weight="bold" text-anchor="middle" fill="#111" stroke="#111" stroke-width="0.2" transform="rotate(-90 494.60 124.90)">Fecal Elastase (ng/ml)</text>
<text x="605.25" y="256.10" font-size="10" font-weight="bold" text-anchor="middle" fill="#111" stroke="#111" stroke-width="0.2" >Diet</text>
<text x="604.75" y="31.40" font-size="11.44" font-weight="bold" text-anchor="middle" fill="#111" stroke="#111" stroke-width="0.2" >3 weeks after Irradiation</text>
<text x="487.50" y="8.80" font-size="10.5" font-weight="bold" text-anchor="start" fill="#111" stroke="#111" stroke-width="0.2" >C</text>
<path d="M539.40,116.20 L541.60,120.05 L537.20,120.05 Z" fill="none" stroke="#a540b5" stroke-width="0.95" stroke-linejoin="miter"/>
<path d="M537.80,148.40 L540.00,152.25 L535.60,152.25 Z" fill="none" stroke="#a540b5" stroke-width="0.95" stroke-linejoin="miter"/>
<path d="M541.00,147.60 L543.20,151.45 L538.80,151.45 Z" fill="none" stroke="#a540b5" stroke-width="0.95" stroke-linejoin="miter"/>
<path d="M544.50,156.20 L546.70,160.05 L542.30,160.05 Z" fill="none" stroke="#a540b5" stroke-width="0.95" stroke-linejoin="miter"/>
<path d="M539.40,155.10 L541.60,158.95 L537.20,158.95 Z" fill="none" stroke="#a540b5" stroke-width="0.95" stroke-linejoin="miter"/>
<path d="M537.40,157.40 L539.60,161.25 L535.20,161.25 Z" fill="none" stroke="#a540b5" stroke-width="0.95" stroke-linejoin="miter"/>
<path d="M542.20,157.80 L544.40,161.65 L540.00,161.65 Z" fill="none" stroke="#a540b5" stroke-width="0.95" stroke-linejoin="miter"/>
<path d="M534.30,162.50 L536.50,166.35 L532.10,166.35 Z" fill="none" stroke="#a540b5" stroke-width="0.95" stroke-linejoin="miter"/>
<path d="M544.50,163.70 L546.70,167.55 L542.30,167.55 Z" fill="none" stroke="#a540b5" stroke-width="0.95" stroke-linejoin="miter"/>
<path d="M539.40,160.60 L541.60,164.45 L537.20,164.45 Z" fill="none" stroke="#a540b5" stroke-width="0.95" stroke-linejoin="miter"/>
<g stroke="#a540b5" stroke-width="0.9" opacity="0.85">
<line x1="532.20" y1="154.40" x2="546.60" y2="154.40" stroke="#a540b5" stroke-width="0.9"/>
<line x1="535.60" y1="150.70" x2="543.20" y2="150.70" stroke="#a540b5" stroke-width="0.9"/>
<line x1="535.60" y1="158.10" x2="543.20" y2="158.10" stroke="#a540b5" stroke-width="0.9"/>
<line x1="539.40" y1="150.70" x2="539.40" y2="158.10" stroke="#a540b5" stroke-width="0.9"/>
</g>
<circle cx="561.00" cy="147.00" r="2.1" fill="none" stroke="#a540b5" stroke-width="0.95"/>
<circle cx="555.50" cy="154.00" r="2.1" fill="none" stroke="#a540b5" stroke-width="0.95"/>
<circle cx="559.40" cy="152.80" r="2.1" fill="none" stroke="#a540b5" stroke-width="0.95"/>
<circle cx="564.20" cy="153.60" r="2.1" fill="none" stroke="#a540b5" stroke-width="0.95"/>
<circle cx="566.90" cy="152.80" r="2.1" fill="none" stroke="#a540b5" stroke-width="0.95"/>
<circle cx="561.00" cy="155.60" r="2.1" fill="none" stroke="#a540b5" stroke-width="0.95"/>
<circle cx="564.20" cy="159.50" r="2.1" fill="none" stroke="#a540b5" stroke-width="0.95"/>
<circle cx="561.80" cy="161.50" r="2.1" fill="none" stroke="#a540b5" stroke-width="0.95"/>
<circle cx="557.90" cy="163.50" r="2.1" fill="none" stroke="#a540b5" stroke-width="0.95"/>
<g stroke="#a540b5" stroke-width="0.9" opacity="0.85">
<line x1="553.87" y1="155.20" x2="568.27" y2="155.20" stroke="#a540b5" stroke-width="0.9"/>
<line x1="557.27" y1="153.40" x2="564.87" y2="153.40" stroke="#a540b5" stroke-width="0.9"/>
<line x1="557.27" y1="157.00" x2="564.87" y2="157.00" stroke="#a540b5" stroke-width="0.9"/>
<line x1="561.07" y1="153.40" x2="561.07" y2="157.00" stroke="#a540b5" stroke-width="0.9"/>
</g>
<circle cx="580.10" cy="137.10" r="2.1" fill="none" stroke="#4358b8" stroke-width="0.95"/>
<circle cx="585.40" cy="140.40" r="2.1" fill="none" stroke="#4358b8" stroke-width="0.95"/>
<circle cx="582.80" cy="146.50" r="2.1" fill="none" stroke="#4358b8" stroke-width="0.95"/>
<circle cx="588.10" cy="153.20" r="2.1" fill="none" stroke="#4358b8" stroke-width="0.95"/>
<circle cx="577.70" cy="157.20" r="2.1" fill="none" stroke="#4358b8" stroke-width="0.95"/>
<circle cx="582.80" cy="157.20" r="2.1" fill="none" stroke="#4358b8" stroke-width="0.95"/>
<circle cx="587.80" cy="159.50" r="2.1" fill="none" stroke="#4358b8" stroke-width="0.95"/>
<circle cx="582.80" cy="161.60" r="2.1" fill="none" stroke="#4358b8" stroke-width="0.95"/>
<circle cx="577.70" cy="165.90" r="2.1" fill="none" stroke="#4358b8" stroke-width="0.95"/>
<circle cx="587.80" cy="165.30" r="2.1" fill="none" stroke="#4358b8" stroke-width="0.95"/>
<g stroke="#4358b8" stroke-width="0.9" opacity="0.85">
<line x1="575.54" y1="154.50" x2="589.94" y2="154.50" stroke="#4358b8" stroke-width="0.9"/>
<line x1="578.94" y1="151.50" x2="586.54" y2="151.50" stroke="#4358b8" stroke-width="0.9"/>
<line x1="578.94" y1="157.50" x2="586.54" y2="157.50" stroke="#4358b8" stroke-width="0.9"/>
<line x1="582.74" y1="151.50" x2="582.74" y2="157.50" stroke="#4358b8" stroke-width="0.9"/>
</g>
<circle cx="601.90" cy="149.50" r="2.1" fill="none" stroke="#2b8e39" stroke-width="0.95"/>
<circle cx="606.90" cy="150.80" r="2.1" fill="none" stroke="#2b8e39" stroke-width="0.95"/>
<circle cx="604.60" cy="154.50" r="2.1" fill="none" stroke="#2b8e39" stroke-width="0.95"/>
<circle cx="604.60" cy="158.90" r="2.1" fill="none" stroke="#2b8e39" stroke-width="0.95"/>
<circle cx="599.50" cy="167.60" r="2.1" fill="none" stroke="#2b8e39" stroke-width="0.95"/>
<circle cx="603.60" cy="166.30" r="2.1" fill="none" stroke="#2b8e39" stroke-width="0.95"/>
<circle cx="607.60" cy="166.60" r="2.1" fill="none" stroke="#2b8e39" stroke-width="0.95"/>
<circle cx="610.00" cy="168.60" r="2.1" fill="none" stroke="#2b8e39" stroke-width="0.95"/>
<circle cx="605.60" cy="163.60" r="2.1" fill="none" stroke="#2b8e39" stroke-width="0.95"/>
<g stroke="#2b8e39" stroke-width="0.9" opacity="0.85">
<line x1="597.21" y1="161.20" x2="611.61" y2="161.20" stroke="#2b8e39" stroke-width="0.9"/>
<line x1="600.61" y1="158.90" x2="608.21" y2="158.90" stroke="#2b8e39" stroke-width="0.9"/>
<line x1="600.61" y1="163.90" x2="608.21" y2="163.90" stroke="#2b8e39" stroke-width="0.9"/>
<line x1="604.41" y1="158.90" x2="604.41" y2="163.90" stroke="#2b8e39" stroke-width="0.9"/>
</g>
<circle cx="626.60" cy="164.20" r="2.1" fill="none" stroke="#ec8530" stroke-width="0.95"/>
<circle cx="622.20" cy="166.60" r="2.1" fill="none" stroke="#ec8530" stroke-width="0.95"/>
<circle cx="629.50" cy="166.80" r="2.1" fill="none" stroke="#ec8530" stroke-width="0.95"/>
<circle cx="621.00" cy="169.70" r="2.1" fill="none" stroke="#ec8530" stroke-width="0.95"/>
<circle cx="623.50" cy="169.70" r="2.1" fill="none" stroke="#ec8530" stroke-width="0.95"/>
<circle cx="626.00" cy="169.70" r="2.1" fill="none" stroke="#ec8530" stroke-width="0.95"/>
<circle cx="628.50" cy="169.70" r="2.1" fill="none" stroke="#ec8530" stroke-width="0.95"/>
<circle cx="631.00" cy="169.70" r="2.1" fill="none" stroke="#ec8530" stroke-width="0.95"/>
<g stroke="#ec8530" stroke-width="0.9" opacity="0.85">
<line x1="618.88" y1="167.60" x2="633.28" y2="167.60" stroke="#ec8530" stroke-width="0.9"/>
<line x1="622.28" y1="166.80" x2="629.88" y2="166.80" stroke="#ec8530" stroke-width="0.9"/>
<line x1="622.28" y1="168.40" x2="629.88" y2="168.40" stroke="#ec8530" stroke-width="0.9"/>
<line x1="626.08" y1="166.80" x2="626.08" y2="168.40" stroke="#ec8530" stroke-width="0.9"/>
</g>
<circle cx="642.60" cy="169.70" r="2.1" fill="none" stroke="#ec2a2e" stroke-width="0.95"/>
<circle cx="644.09" cy="169.70" r="2.1" fill="none" stroke="#ec2a2e" stroke-width="0.95"/>
<circle cx="645.57" cy="169.70" r="2.1" fill="none" stroke="#ec2a2e" stroke-width="0.95"/>
<circle cx="647.06" cy="169.70" r="2.1" fill="none" stroke="#ec2a2e" stroke-width="0.95"/>
<circle cx="648.54" cy="169.70" r="2.1" fill="none" stroke="#ec2a2e" stroke-width="0.95"/>
<circle cx="650.03" cy="169.70" r="2.1" fill="none" stroke="#ec2a2e" stroke-width="0.95"/>
<circle cx="651.51" cy="169.70" r="2.1" fill="none" stroke="#ec2a2e" stroke-width="0.95"/>
<circle cx="653.00" cy="169.70" r="2.1" fill="none" stroke="#ec2a2e" stroke-width="0.95"/>
<g stroke="#ec2a2e" stroke-width="0.9" opacity="0.85">
<line x1="640.55" y1="169.60" x2="654.95" y2="169.60" stroke="#ec2a2e" stroke-width="0.9"/>
<line x1="643.95" y1="169.40" x2="651.55" y2="169.40" stroke="#ec2a2e" stroke-width="0.9"/>
<line x1="643.95" y1="169.80" x2="651.55" y2="169.80" stroke="#ec2a2e" stroke-width="0.9"/>
<line x1="647.75" y1="169.40" x2="647.75" y2="169.80" stroke="#ec2a2e" stroke-width="0.9"/>
</g>
<path d="M669.90,160.10 L672.10,163.95 L667.70,163.95 Z" fill="none" stroke="#ec2a2e" stroke-width="0.95" stroke-linejoin="miter"/>
<path d="M666.00,164.50 L668.20,168.35 L663.80,168.35 Z" fill="none" stroke="#ec2a2e" stroke-width="0.95" stroke-linejoin="miter"/>
<path d="M672.80,164.90 L675.00,168.75 L670.60,168.75 Z" fill="none" stroke="#ec2a2e" stroke-width="0.95" stroke-linejoin="miter"/>
<path d="M664.60,167.90 L666.80,171.75 L662.40,171.75 Z" fill="none" stroke="#ec2a2e" stroke-width="0.95" stroke-linejoin="miter"/>
<path d="M667.93,167.90 L670.13,171.75 L665.73,171.75 Z" fill="none" stroke="#ec2a2e" stroke-width="0.95" stroke-linejoin="miter"/>
<path d="M671.27,167.90 L673.47,171.75 L669.07,171.75 Z" fill="none" stroke="#ec2a2e" stroke-width="0.95" stroke-linejoin="miter"/>
<path d="M674.60,167.90 L676.80,171.75 L672.40,171.75 Z" fill="none" stroke="#ec2a2e" stroke-width="0.95" stroke-linejoin="miter"/>
<g stroke="#ec2a2e" stroke-width="0.9" opacity="0.85">
<line x1="662.22" y1="167.50" x2="676.62" y2="167.50" stroke="#ec2a2e" stroke-width="0.9"/>
<line x1="665.62" y1="166.50" x2="673.22" y2="166.50" stroke="#ec2a2e" stroke-width="0.9"/>
<line x1="665.62" y1="168.50" x2="673.22" y2="168.50" stroke="#ec2a2e" stroke-width="0.9"/>
<line x1="669.42" y1="166.50" x2="669.42" y2="168.50" stroke="#ec2a2e" stroke-width="0.9"/>
</g>
<path d="M561.50,111.60 L561.50,94.50 L648.50,94.50 L648.50,97.60" fill="none" stroke="#404040" stroke-width="1.0"/>
<line x1="626.50" y1="94.50" x2="626.50" y2="97.60" stroke="#404040" stroke-width="1.0"/>
<path d="M582.50,127.80 L582.50,113.50 L648.50,113.50 L648.50,116.60" fill="none" stroke="#404040" stroke-width="1.0"/>
<line x1="626.50" y1="113.50" x2="626.50" y2="116.60" stroke="#404040" stroke-width="1.0"/>
<path d="M604.50,141.40 L604.50,138.50 L648.50,138.50 L648.50,141.40" fill="none" stroke="#404040" stroke-width="1.0"/>
<path d="M647.50,156.40 L647.50,153.50 L669.50,153.50 L669.50,156.40" fill="none" stroke="#404040" stroke-width="1.0"/>
<text x="626.30" y="109.10" font-size="13" font-weight="bold" text-anchor="middle" fill="#111" stroke="#111" stroke-width="0.35" >**</text>
<text x="648.00" y="109.10" font-size="13" font-weight="bold" text-anchor="middle" fill="#111" stroke="#111" stroke-width="0.35" >****</text>
<text x="626.30" y="128.20" font-size="13" font-weight="bold" text-anchor="middle" fill="#111" stroke="#111" stroke-width="0.35" >**</text>
<text x="648.00" y="128.20" font-size="13" font-weight="bold" text-anchor="middle" fill="#111" stroke="#111" stroke-width="0.35" >***</text>
<text x="626.30" y="140.10" font-size="13" font-weight="bold" text-anchor="middle" fill="#111" stroke="#111" stroke-width="0.35" >*</text>
<text x="659.00" y="155.10" font-size="13" font-weight="bold" text-anchor="middle" fill="#111" stroke="#111" stroke-width="0.35" >**</text>
<line x1="38.50" y1="377.90" x2="38.50" y2="485.00" stroke="#444444" stroke-width="1.0"/>
<line x1="38.00" y1="484.50" x2="197.80" y2="484.50" stroke="#444444" stroke-width="1.0"/>
<line x1="34.20" y1="475.20" x2="38.50" y2="475.20" stroke="#444444" stroke-width="1.0"/>
<text x="31.90" y="479.20" font-size="10" font-weight="bold" text-anchor="end" fill="#111" stroke="#111" stroke-width="0.2" >0</text>
<line x1="34.20" y1="451.00" x2="38.50" y2="451.00" stroke="#444444" stroke-width="1.0"/>
<text x="31.90" y="455.00" font-size="10" font-weight="bold" text-anchor="end" fill="#111" stroke="#111" stroke-width="0.2" >50</text>
<line x1="34.20" y1="426.80" x2="38.50" y2="426.80" stroke="#444444" stroke-width="1.0"/>
<text x="31.90" y="430.80" font-size="10" font-weight="bold" text-anchor="end" fill="#111" stroke="#111" stroke-width="0.2" >100</text>
<line x1="34.20" y1="402.60" x2="38.50" y2="402.60" stroke="#444444" stroke-width="1.0"/>
<text x="31.90" y="406.60" font-size="10" font-weight="bold" text-anchor="end" fill="#111" stroke="#111" stroke-width="0.2" >150</text>
<line x1="34.20" y1="378.40" x2="38.50" y2="378.40" stroke="#444444" stroke-width="1.0"/>
<text x="31.90" y="382.40" font-size="10" font-weight="bold" text-anchor="end" fill="#111" stroke="#111" stroke-width="0.2" >200</text>
<line x1="52.50" y1="484.50" x2="52.50" y2="488.50" stroke="#444444" stroke-width="1.0"/>
<text x="54.80" y="498.00" font-size="10.2" font-weight="bold" text-anchor="end" fill="#111" stroke="#111" stroke-width="0.2" transform="rotate(-45 54.80 498.00)">High-oat cntl</text>
<line x1="74.50" y1="484.50" x2="74.50" y2="488.50" stroke="#444444" stroke-width="1.0"/>
<text x="76.57" y="498.00" font-size="10.2" font-weight="bold" text-anchor="end" fill="#111" stroke="#111" stroke-width="0.2" transform="rotate(-45 76.57 498.00)">High-oat irr</text>
<line x1="96.50" y1="484.50" x2="96.50" y2="488.50" stroke="#444444" stroke-width="1.0"/>
<text x="98.34" y="498.00" font-size="10.2" font-weight="bold" text-anchor="end" fill="#111" stroke="#111" stroke-width="0.2" transform="rotate(-45 98.34 498.00)">Medium-oat irr</text>
<line x1="117.50" y1="484.50" x2="117.50" y2="488.50" stroke="#444444" stroke-width="1.0"/>
<text x="120.11" y="498.00" font-size="10.2" font-weight="bold" text-anchor="end" fill="#111" stroke="#111" stroke-width="0.2" transform="rotate(-45 120.11 498.00)">Low-oat irr</text>
<line x1="139.50" y1="484.50" x2="139.50" y2="488.50" stroke="#444444" stroke-width="1.0"/>
<text x="141.88" y="498.00" font-size="10.2" font-weight="bold" text-anchor="end" fill="#111" stroke="#111" stroke-width="0.2" transform="rotate(-45 141.88 498.00)">No-oat irr</text>
<line x1="161.50" y1="484.50" x2="161.50" y2="488.50" stroke="#444444" stroke-width="1.0"/>
<text x="163.65" y="498.00" font-size="10.2" font-weight="bold" text-anchor="end" fill="#111" stroke="#111" stroke-width="0.2" transform="rotate(-45 163.65 498.00)">No-fiber irr</text>
<line x1="183.50" y1="484.50" x2="183.50" y2="488.50" stroke="#444444" stroke-width="1.0"/>
<text x="185.42" y="498.00" font-size="10.2" font-weight="bold" text-anchor="end" fill="#111" stroke="#111" stroke-width="0.2" transform="rotate(-45 185.42 498.00)">No-fiber cntl</text>
<text x="8.60" y="430.20" font-size="10" font-weight="bold" text-anchor="middle" fill="#111" stroke="#111" stroke-width="0.2" transform="rotate(-90 8.60 430.20)">Fecal Elastase (ng/ml)</text>
<text x="118.65" y="561.40" font-size="10" font-weight="bold" text-anchor="middle" fill="#111" stroke="#111" stroke-width="0.2" >Diet</text>
<text x="118.15" y="336.40" font-size="11.38" font-weight="bold" text-anchor="middle" fill="#111" stroke="#111" stroke-width="0.2" >6 weeks after Irradiation</text>
<text x="0.50" y="311.50" font-size="10.5" font-weight="bold" text-anchor="start" fill="#111" stroke="#111" stroke-width="0.2" >D</text>
<path d="M52.60,383.30 L54.80,387.15 L50.40,387.15 Z" fill="none" stroke="#a540b5" stroke-width="0.95" stroke-linejoin="miter"/>
<path d="M52.60,401.90 L54.80,405.75 L50.40,405.75 Z" fill="none" stroke="#a540b5" stroke-width="0.95" stroke-linejoin="miter"/>
<path d="M47.70,420.10 L49.90,423.95 L45.50,423.95 Z" fill="none" stroke="#a540b5" stroke-width="0.95" stroke-linejoin="miter"/>
<path d="M58.20,421.40 L60.40,425.25 L56.00,425.25 Z" fill="none" stroke="#a540b5" stroke-width="0.95" stroke-linejoin="miter"/>
<path d="M52.60,428.50 L54.80,432.35 L50.40,432.35 Z" fill="none" stroke="#a540b5" stroke-width="0.95" stroke-linejoin="miter"/>
<path d="M52.60,437.40 L54.80,441.25 L50.40,441.25 Z" fill="none" stroke="#a540b5" stroke-width="0.95" stroke-linejoin="miter"/>
<path d="M52.60,441.40 L54.80,445.25 L50.40,445.25 Z" fill="none" stroke="#a540b5" stroke-width="0.95" stroke-linejoin="miter"/>
<path d="M47.70,449.40 L49.90,453.25 L45.50,453.25 Z" fill="none" stroke="#a540b5" stroke-width="0.95" stroke-linejoin="miter"/>
<path d="M58.20,451.40 L60.40,455.25 L56.00,455.25 Z" fill="none" stroke="#a540b5" stroke-width="0.95" stroke-linejoin="miter"/>
<path d="M47.70,455.10 L49.90,458.95 L45.50,458.95 Z" fill="none" stroke="#a540b5" stroke-width="0.95" stroke-linejoin="miter"/>
<g stroke="#a540b5" stroke-width="0.9" opacity="0.85">
<line x1="45.40" y1="430.60" x2="59.80" y2="430.60" stroke="#a540b5" stroke-width="0.9"/>
<line x1="48.80" y1="422.90" x2="56.40" y2="422.90" stroke="#a540b5" stroke-width="0.9"/>
<line x1="48.80" y1="438.20" x2="56.40" y2="438.20" stroke="#a540b5" stroke-width="0.9"/>
<line x1="52.60" y1="422.90" x2="52.60" y2="438.20" stroke="#a540b5" stroke-width="0.9"/>
</g>
<circle cx="74.30" cy="384.30" r="2.1" fill="none" stroke="#a540b5" stroke-width="0.95"/>
<circle cx="74.30" cy="416.00" r="2.1" fill="none" stroke="#a540b5" stroke-width="0.95"/>
<circle cx="74.30" cy="420.90" r="2.1" fill="none" stroke="#a540b5" stroke-width="0.95"/>
<circle cx="74.30" cy="436.80" r="2.1" fill="none" stroke="#a540b5" stroke-width="0.95"/>
<circle cx="69.50" cy="440.20" r="2.1" fill="none" stroke="#a540b5" stroke-width="0.95"/>
<circle cx="79.60" cy="440.20" r="2.1" fill="none" stroke="#a540b5" stroke-width="0.95"/>
<circle cx="69.50" cy="444.80" r="2.1" fill="none" stroke="#a540b5" stroke-width="0.95"/>
<circle cx="74.30" cy="445.50" r="2.1" fill="none" stroke="#a540b5" stroke-width="0.95"/>
<circle cx="79.60" cy="446.80" r="2.1" fill="none" stroke="#a540b5" stroke-width="0.95"/>
<circle cx="69.50" cy="451.10" r="2.1" fill="none" stroke="#a540b5" stroke-width="0.95"/>
<g stroke="#a540b5" stroke-width="0.9" opacity="0.85">
<line x1="67.17" y1="432.80" x2="81.57" y2="432.80" stroke="#a540b5" stroke-width="0.9"/>
<line x1="70.57" y1="426.20" x2="78.17" y2="426.20" stroke="#a540b5" stroke-width="0.9"/>
<line x1="70.57" y1="438.80" x2="78.17" y2="438.80" stroke="#a540b5" stroke-width="0.9"/>
<line x1="74.37" y1="426.20" x2="74.37" y2="438.80" stroke="#a540b5" stroke-width="0.9"/>
</g>
<circle cx="96.20" cy="433.50" r="2.1" fill="none" stroke="#4358b8" stroke-width="0.95"/>
<circle cx="94.50" cy="453.90" r="2.1" fill="none" stroke="#4358b8" stroke-width="0.95"/>
<circle cx="97.90" cy="453.20" r="2.1" fill="none" stroke="#4358b8" stroke-width="0.95"/>
<circle cx="101.80" cy="454.60" r="2.1" fill="none" stroke="#4358b8" stroke-width="0.95"/>
<circle cx="91.00" cy="457.40" r="2.1" fill="none" stroke="#4358b8" stroke-width="0.95"/>
<circle cx="95.10" cy="457.80" r="2.1" fill="none" stroke="#4358b8" stroke-width="0.95"/>
<circle cx="91.00" cy="461.90" r="2.1" fill="none" stroke="#4358b8" stroke-width="0.95"/>
<circle cx="94.80" cy="461.20" r="2.1" fill="none" stroke="#4358b8" stroke-width="0.95"/>
<circle cx="98.30" cy="463.00" r="2.1" fill="none" stroke="#4358b8" stroke-width="0.95"/>
<circle cx="94.50" cy="465.40" r="2.1" fill="none" stroke="#4358b8" stroke-width="0.95"/>
<circle cx="96.20" cy="470.30" r="2.1" fill="none" stroke="#4358b8" stroke-width="0.95"/>
<circle cx="96.20" cy="474.80" r="2.1" fill="none" stroke="#4358b8" stroke-width="0.95"/>
<g stroke="#4358b8" stroke-width="0.9" opacity="0.85">
<line x1="88.94" y1="459.10" x2="103.34" y2="459.10" stroke="#4358b8" stroke-width="0.9"/>
<line x1="92.34" y1="455.90" x2="99.94" y2="455.90" stroke="#4358b8" stroke-width="0.9"/>
<line x1="92.34" y1="462.30" x2="99.94" y2="462.30" stroke="#4358b8" stroke-width="0.9"/>
<line x1="96.14" y1="455.90" x2="96.14" y2="462.30" stroke="#4358b8" stroke-width="0.9"/>
</g>
<circle cx="112.90" cy="468.90" r="2.1" fill="none" stroke="#2b8e39" stroke-width="0.95"/>
<circle cx="116.40" cy="465.40" r="2.1" fill="none" stroke="#2b8e39" stroke-width="0.95"/>
<circle cx="119.90" cy="465.10" r="2.1" fill="none" stroke="#2b8e39" stroke-width="0.95"/>
<circle cx="122.70" cy="468.60" r="2.1" fill="none" stroke="#2b8e39" stroke-width="0.95"/>
<circle cx="119.20" cy="472.00" r="2.1" fill="none" stroke="#2b8e39" stroke-width="0.95"/>
<circle cx="123.40" cy="471.30" r="2.1" fill="none" stroke="#2b8e39" stroke-width="0.95"/>
<circle cx="115.40" cy="468.60" r="2.1" fill="none" stroke="#2b8e39" stroke-width="0.95"/>
<circle cx="117.40" cy="469.60" r="2.1" fill="none" stroke="#2b8e39" stroke-width="0.95"/>
<g stroke="#2b8e39" stroke-width="0.9" opacity="0.85">
<line x1="110.71" y1="468.50" x2="125.11" y2="468.50" stroke="#2b8e39" stroke-width="0.9"/>
<line x1="114.11" y1="467.50" x2="121.71" y2="467.50" stroke="#2b8e39" stroke-width="0.9"/>
<line x1="114.11" y1="469.50" x2="121.71" y2="469.50" stroke="#2b8e39" stroke-width="0.9"/>
<line x1="117.91" y1="467.50" x2="117.91" y2="469.50" stroke="#2b8e39" stroke-width="0.9"/>
</g>
<circle cx="134.50" cy="475.30" r="2.1" fill="none" stroke="#ec8530" stroke-width="0.95"/>
<circle cx="136.17" cy="475.30" r="2.1" fill="none" stroke="#ec8530" stroke-width="0.95"/>
<circle cx="137.83" cy="475.30" r="2.1" fill="none" stroke="#ec8530" stroke-width="0.95"/>
<circle cx="139.50" cy="475.30" r="2.1" fill="none" stroke="#ec8530" stroke-width="0.95"/>
<circle cx="141.17" cy="475.30" r="2.1" fill="none" stroke="#ec8530" stroke-width="0.95"/>
<circle cx="142.83" cy="475.30" r="2.1" fill="none" stroke="#ec8530" stroke-width="0.95"/>
<circle cx="144.50" cy="475.30" r="2.1" fill="none" stroke="#ec8530" stroke-width="0.95"/>
<circle cx="135.50" cy="474.20" r="2.1" fill="none" stroke="#ec8530" stroke-width="0.95"/>
<circle cx="137.50" cy="474.20" r="2.1" fill="none" stroke="#ec8530" stroke-width="0.95"/>
<circle cx="139.50" cy="474.20" r="2.1" fill="none" stroke="#ec8530" stroke-width="0.95"/>
<circle cx="141.50" cy="474.20" r="2.1" fill="none" stroke="#ec8530" stroke-width="0.95"/>
<circle cx="143.50" cy="474.20" r="2.1" fill="none" stroke="#ec8530" stroke-width="0.95"/>
<circle cx="136.00" cy="473.40" r="2.1" fill="none" stroke="#ec8530" stroke-width="0.95"/>
<g stroke="#ec8530" stroke-width="0.9" opacity="0.85">
<line x1="132.48" y1="474.80" x2="146.88" y2="474.80" stroke="#ec8530" stroke-width="0.9"/>
<line x1="135.88" y1="474.60" x2="143.48" y2="474.60" stroke="#ec8530" stroke-width="0.9"/>
<line x1="135.88" y1="475.00" x2="143.48" y2="475.00" stroke="#ec8530" stroke-width="0.9"/>
<line x1="139.68" y1="474.60" x2="139.68" y2="475.00" stroke="#ec8530" stroke-width="0.9"/>
</g>
<circle cx="156.00" cy="475.30" r="2.1" fill="none" stroke="#ec2a2e" stroke-width="0.95"/>
<circle cx="157.75" cy="475.30" r="2.1" fill="none" stroke="#ec2a2e" stroke-width="0.95"/>
<circle cx="159.50" cy="475.30" r="2.1" fill="none" stroke="#ec2a2e" stroke-width="0.95"/>
<circle cx="161.25" cy="475.30" r="2.1" fill="none" stroke="#ec2a2e" stroke-width="0.95"/>
<circle cx="163.00" cy="475.30" r="2.1" fill="none" stroke="#ec2a2e" stroke-width="0.95"/>
<circle cx="164.75" cy="475.30" r="2.1" fill="none" stroke="#ec2a2e" stroke-width="0.95"/>
<circle cx="166.50" cy="475.30" r="2.1" fill="none" stroke="#ec2a2e" stroke-width="0.95"/>
<circle cx="157.00" cy="474.40" r="2.1" fill="none" stroke="#ec2a2e" stroke-width="0.95"/>
<circle cx="159.12" cy="474.40" r="2.1" fill="none" stroke="#ec2a2e" stroke-width="0.95"/>
<circle cx="161.25" cy="474.40" r="2.1" fill="none" stroke="#ec2a2e" stroke-width="0.95"/>
<circle cx="163.38" cy="474.40" r="2.1" fill="none" stroke="#ec2a2e" stroke-width="0.95"/>
<circle cx="165.50" cy="474.40" r="2.1" fill="none" stroke="#ec2a2e" stroke-width="0.95"/>
<circle cx="156.90" cy="472.60" r="2.1" fill="none" stroke="#ec2a2e" stroke-width="0.95"/>
<g stroke="#ec2a2e" stroke-width="0.9" opacity="0.85">
<line x1="154.25" y1="474.80" x2="168.65" y2="474.80" stroke="#ec2a2e" stroke-width="0.9"/>
<line x1="157.65" y1="474.60" x2="165.25" y2="474.60" stroke="#ec2a2e" stroke-width="0.9"/>
<line x1="157.65" y1="475.00" x2="165.25" y2="475.00" stroke="#ec2a2e" stroke-width="0.9"/>
<line x1="161.45" y1="474.60" x2="161.45" y2="475.00" stroke="#ec2a2e" stroke-width="0.9"/>
</g>
<path d="M178.00,473.30 L180.20,477.15 L175.80,477.15 Z" fill="none" stroke="#ec2a2e" stroke-width="0.95" stroke-linejoin="miter"/>
<path d="M180.00,473.30 L182.20,477.15 L177.80,477.15 Z" fill="none" stroke="#ec2a2e" stroke-width="0.95" stroke-linejoin="miter"/>
<path d="M182.00,473.30 L184.20,477.15 L179.80,477.15 Z" fill="none" stroke="#ec2a2e" stroke-width="0.95" stroke-linejoin="miter"/>
<path d="M184.00,473.30 L186.20,477.15 L181.80,477.15 Z" fill="none" stroke="#ec2a2e" stroke-width="0.95" stroke-linejoin="miter"/>
<path d="M186.00,473.30 L188.20,477.15 L183.80,477.15 Z" fill="none" stroke="#ec2a2e" stroke-width="0.95" stroke-linejoin="miter"/>
<path d="M188.00,473.30 L190.20,477.15 L185.80,477.15 Z" fill="none" stroke="#ec2a2e" stroke-width="0.95" stroke-linejoin="miter"/>
<path d="M179.50,472.40 L181.70,476.25 L177.30,476.25 Z" fill="none" stroke="#ec2a2e" stroke-width="0.95" stroke-linejoin="miter"/>
<path d="M181.83,472.40 L184.03,476.25 L179.63,476.25 Z" fill="none" stroke="#ec2a2e" stroke-width="0.95" stroke-linejoin="miter"/>
<path d="M184.17,472.40 L186.37,476.25 L181.97,476.25 Z" fill="none" stroke="#ec2a2e" stroke-width="0.95" stroke-linejoin="miter"/>
<path d="M186.50,472.40 L188.70,476.25 L184.30,476.25 Z" fill="none" stroke="#ec2a2e" stroke-width="0.95" stroke-linejoin="miter"/>
<path d="M179.00,470.90 L181.20,474.75 L176.80,474.75 Z" fill="none" stroke="#ec2a2e" stroke-width="0.95" stroke-linejoin="miter"/>
<g stroke="#ec2a2e" stroke-width="0.9" opacity="0.85">
<line x1="176.02" y1="474.80" x2="190.42" y2="474.80" stroke="#ec2a2e" stroke-width="0.9"/>
<line x1="179.42" y1="474.60" x2="187.02" y2="474.60" stroke="#ec2a2e" stroke-width="0.9"/>
<line x1="179.42" y1="475.00" x2="187.02" y2="475.00" stroke="#ec2a2e" stroke-width="0.9"/>
<line x1="183.22" y1="474.60" x2="183.22" y2="475.00" stroke="#ec2a2e" stroke-width="0.9"/>
</g>
<path d="M74.50,378.50 L74.50,360.50 L161.50,360.50 L161.50,364.30" fill="none" stroke="#404040" stroke-width="1.0"/>
<line x1="139.50" y1="360.50" x2="139.50" y2="364.30" stroke="#404040" stroke-width="1.0"/>
<path d="M96.50,427.60 L96.50,413.50 L161.50,413.50 L161.50,416.30" fill="none" stroke="#404040" stroke-width="1.0"/>
<line x1="139.50" y1="413.50" x2="139.50" y2="416.30" stroke="#404040" stroke-width="1.0"/>
<text x="139.60" y="375.50" font-size="13" font-weight="bold" text-anchor="middle" fill="#111" stroke="#111" stroke-width="0.35" >****</text>
<text x="161.50" y="375.50" font-size="13" font-weight="bold" text-anchor="middle" fill="#111" stroke="#111" stroke-width="0.35" >****</text>
<text x="139.60" y="428.10" font-size="13" font-weight="bold" text-anchor="middle" fill="#111" stroke="#111" stroke-width="0.35" >**</text>
<text x="161.50" y="428.10" font-size="13" font-weight="bold" text-anchor="middle" fill="#111" stroke="#111" stroke-width="0.35" >**</text>
<line x1="272.40" y1="378.30" x2="272.40" y2="489.30" stroke="#444444" stroke-width="1.0"/>
<line x1="268.40" y1="485.30" x2="431.80" y2="485.30" stroke="#444444" stroke-width="1.0"/>
<line x1="268.40" y1="485.30" x2="272.40" y2="485.30" stroke="#444444" stroke-width="1.0"/>
<text x="266.10" y="488.00" font-size="7.5" font-weight="bold" text-anchor="end" fill="#111" stroke="#111" stroke-width="0.35" >0</text>
<line x1="268.40" y1="458.68" x2="272.40" y2="458.68" stroke="#444444" stroke-width="1.0"/>
<text x="266.10" y="461.38" font-size="7.5" font-weight="bold" text-anchor="end" fill="#111" stroke="#111" stroke-width="0.35" >50</text>
<line x1="268.40" y1="432.05" x2="272.40" y2="432.05" stroke="#444444" stroke-width="1.0"/>
<text x="266.10" y="434.75" font-size="7.5" font-weight="bold" text-anchor="end" fill="#111" stroke="#111" stroke-width="0.35" >100</text>
<line x1="268.40" y1="405.43" x2="272.40" y2="405.43" stroke="#444444" stroke-width="1.0"/>
<text x="266.10" y="408.12" font-size="7.5" font-weight="bold" text-anchor="end" fill="#111" stroke="#111" stroke-width="0.35" >150</text>
<line x1="268.40" y1="378.80" x2="272.40" y2="378.80" stroke="#444444" stroke-width="1.0"/>
<text x="266.10" y="381.50" font-size="7.5" font-weight="bold" text-anchor="end" fill="#111" stroke="#111" stroke-width="0.35" >200</text>
<line x1="272.40" y1="485.30" x2="272.40" y2="489.30" stroke="#444444" stroke-width="1.0"/>
<text x="272.40" y="498.70" font-size="7.5" font-weight="bold" text-anchor="middle" fill="#111" stroke="#111" stroke-width="0.35" >0</text>
<line x1="312.12" y1="485.30" x2="312.12" y2="489.30" stroke="#444444" stroke-width="1.0"/>
<text x="312.12" y="498.70" font-size="7.5" font-weight="bold" text-anchor="middle" fill="#111" stroke="#111" stroke-width="0.35" >50</text>
<line x1="351.85" y1="485.30" x2="351.85" y2="489.30" stroke="#444444" stroke-width="1.0"/>
<text x="351.85" y="498.70" font-size="7.5" font-weight="bold" text-anchor="middle" fill="#111" stroke="#111" stroke-width="0.35" >100</text>
<line x1="391.57" y1="485.30" x2="391.57" y2="489.30" stroke="#444444" stroke-width="1.0"/>
<text x="391.57" y="498.70" font-size="7.5" font-weight="bold" text-anchor="middle" fill="#111" stroke="#111" stroke-width="0.35" >150</text>
<line x1="431.30" y1="485.30" x2="431.30" y2="489.30" stroke="#444444" stroke-width="1.0"/>
<text x="431.30" y="498.70" font-size="7.5" font-weight="bold" text-anchor="middle" fill="#111" stroke="#111" stroke-width="0.35" >200</text>
<text x="351.85" y="511.80" font-size="8.5" font-weight="bold" text-anchor="middle" fill="#111" stroke="#111" stroke-width="0.2" >Elastase (ng/ml)</text>
<text x="248.00" y="429.40" font-size="8.5" font-weight="bold" text-anchor="middle" fill="#111" stroke="#111" stroke-width="0.2" transform="rotate(-90 248.00 429.40)">Acetate (µmol/g)</text>
<text x="371.70" y="384.00" font-size="8" font-weight="normal" text-anchor="start" fill="#111" >r = 0.41</text>
<text x="371.70" y="393.60" font-size="8" font-weight="normal" text-anchor="start" fill="#111" >p = 0.007</text>
<text x="241.40" y="311.50" font-size="10.5" font-weight="bold" text-anchor="start" fill="#111" stroke="#111" stroke-width="0.2" >E</text>
<path d="M270.10,422.10 L274.30,422.10 L272.20,418.40 Z" fill="#8c1515"/>
<path d="M309.40,430.70 L313.60,430.70 L311.50,427.00 Z" fill="#8c1515"/>
<path d="M322.70,431.40 L326.90,431.40 L324.80,427.70 Z" fill="#8c1515"/>
<path d="M326.50,434.00 L330.70,434.00 L328.60,430.30 Z" fill="#8c1515"/>
<path d="M305.90,435.20 L310.10,435.20 L308.00,431.50 Z" fill="#8c1515"/>
<path d="M310.00,439.20 L314.20,439.20 L312.10,435.50 Z" fill="#8c1515"/>
<path d="M280.40,440.80 L284.60,440.80 L282.50,437.10 Z" fill="#8c1515"/>
<path d="M271.90,441.70 L276.10,441.70 L274.00,438.00 Z" fill="#8c1515"/>
<path d="M270.10,443.60 L274.30,443.60 L272.20,439.90 Z" fill="#8c1515"/>
<path d="M270.10,445.50 L274.30,445.50 L272.20,441.80 Z" fill="#8c1515"/>
<path d="M270.10,446.60 L274.30,446.60 L272.20,442.90 Z" fill="#8c1515"/>
<path d="M326.50,446.60 L330.70,446.60 L328.60,442.90 Z" fill="#8c1515"/>
<path d="M270.10,451.20 L274.30,451.20 L272.20,447.50 Z" fill="#8c1515"/>
<path d="M270.10,452.70 L274.30,452.70 L272.20,449.00 Z" fill="#8c1515"/>
<path d="M270.10,454.20 L274.30,454.20 L272.20,450.50 Z" fill="#8c1515"/>
<path d="M276.40,452.00 L280.60,452.00 L278.50,448.30 Z" fill="#8c1515"/>
<path d="M316.00,451.90 L320.20,451.90 L318.10,448.20 Z" fill="#8c1515"/>
<path d="M319.00,452.40 L323.20,452.40 L321.10,448.70 Z" fill="#8c1515"/>
<path d="M291.40,453.90 L295.60,453.90 L293.50,450.20 Z" fill="#8c1515"/>
<path d="M298.80,453.90 L303.00,453.90 L300.90,450.20 Z" fill="#8c1515"/>
<path d="M338.60,453.80 L342.80,453.80 L340.70,450.10 Z" fill="#8c1515"/>
<path d="M286.10,456.90 L290.30,456.90 L288.20,453.20 Z" fill="#8c1515"/>
<path d="M270.10,459.90 L274.30,459.90 L272.20,456.20 Z" fill="#8c1515"/>
<path d="M270.10,461.50 L274.30,461.50 L272.20,457.80 Z" fill="#8c1515"/>
<path d="M275.70,461.10 L279.90,461.10 L277.80,457.40 Z" fill="#8c1515"/>
<path d="M278.10,462.20 L282.30,462.20 L280.20,458.50 Z" fill="#8c1515"/>
<path d="M281.20,463.40 L285.40,463.40 L283.30,459.70 Z" fill="#8c1515"/>
<path d="M329.70,460.60 L333.90,460.60 L331.80,456.90 Z" fill="#8c1515"/>
<path d="M270.10,463.70 L274.30,463.70 L272.20,460.00 Z" fill="#8c1515"/>
<path d="M270.10,465.60 L274.30,465.60 L272.20,461.90 Z" fill="#8c1515"/>
<path d="M270.10,467.50 L274.30,467.50 L272.20,463.80 Z" fill="#8c1515"/>
<path d="M275.10,467.90 L279.30,467.90 L277.20,464.20 Z" fill="#8c1515"/>
<path d="M282.80,467.20 L287.00,467.20 L284.90,463.50 Z" fill="#8c1515"/>
<path d="M270.10,469.10 L274.30,469.10 L272.20,465.40 Z" fill="#8c1515"/>
<path d="M286.10,473.60 L290.30,473.60 L288.20,469.90 Z" fill="#8c1515"/>
<path d="M270.10,473.60 L274.30,473.60 L272.20,469.90 Z" fill="#8c1515"/>
<path d="M270.50,475.50 L274.70,475.50 L272.60,471.80 Z" fill="#8c1515"/>
<path d="M271.90,477.80 L276.10,477.80 L274.00,474.10 Z" fill="#8c1515"/>
<path d="M388.00,411.40 L392.20,411.40 L390.10,407.70 Z" fill="#8c1515"/>
<path d="M359.20,439.10 L363.40,439.10 L361.30,435.40 Z" fill="#8c1515"/>
<line x1="513.80" y1="377.80" x2="513.80" y2="489.40" stroke="#444444" stroke-width="1.0"/>
<line x1="509.80" y1="485.40" x2="674.90" y2="485.40" stroke="#444444" stroke-width="1.0"/>
<line x1="509.80" y1="485.40" x2="513.80" y2="485.40" stroke="#444444" stroke-width="1.0"/>
<text x="507.50" y="488.10" font-size="7.5" font-weight="bold" text-anchor="end" fill="#111" stroke="#111" stroke-width="0.35" >0</text>
<line x1="509.80" y1="449.70" x2="513.80" y2="449.70" stroke="#444444" stroke-width="1.0"/>
<text x="507.50" y="452.40" font-size="7.5" font-weight="bold" text-anchor="end" fill="#111" stroke="#111" stroke-width="0.35" >5</text>
<line x1="509.80" y1="414.00" x2="513.80" y2="414.00" stroke="#444444" stroke-width="1.0"/>
<text x="507.50" y="416.70" font-size="7.5" font-weight="bold" text-anchor="end" fill="#111" stroke="#111" stroke-width="0.35" >10</text>
<line x1="509.80" y1="378.30" x2="513.80" y2="378.30" stroke="#444444" stroke-width="1.0"/>
<text x="507.50" y="381.00" font-size="7.5" font-weight="bold" text-anchor="end" fill="#111" stroke="#111" stroke-width="0.35" >15</text>
<line x1="513.80" y1="485.40" x2="513.80" y2="489.40" stroke="#444444" stroke-width="1.0"/>
<text x="513.80" y="498.80" font-size="7.5" font-weight="bold" text-anchor="middle" fill="#111" stroke="#111" stroke-width="0.35" >0</text>
<line x1="553.95" y1="485.40" x2="553.95" y2="489.40" stroke="#444444" stroke-width="1.0"/>
<text x="553.95" y="498.80" font-size="7.5" font-weight="bold" text-anchor="middle" fill="#111" stroke="#111" stroke-width="0.35" >50</text>
<line x1="594.10" y1="485.40" x2="594.10" y2="489.40" stroke="#444444" stroke-width="1.0"/>
<text x="594.10" y="498.80" font-size="7.5" font-weight="bold" text-anchor="middle" fill="#111" stroke="#111" stroke-width="0.35" >100</text>
<line x1="634.25" y1="485.40" x2="634.25" y2="489.40" stroke="#444444" stroke-width="1.0"/>
<text x="634.25" y="498.80" font-size="7.5" font-weight="bold" text-anchor="middle" fill="#111" stroke="#111" stroke-width="0.35" >150</text>
<line x1="674.40" y1="485.40" x2="674.40" y2="489.40" stroke="#444444" stroke-width="1.0"/>
<text x="674.40" y="498.80" font-size="7.5" font-weight="bold" text-anchor="middle" fill="#111" stroke="#111" stroke-width="0.35" >200</text>
<text x="594.10" y="511.90" font-size="8.5" font-weight="bold" text-anchor="middle" fill="#111" stroke="#111" stroke-width="0.2" >Elastase (ng/ml)</text>
<text x="494.50" y="429.90" font-size="8.5" font-weight="bold" text-anchor="middle" fill="#111" stroke="#111" stroke-width="0.2" transform="rotate(-90 494.50 429.90)">Propionate (µmol/g)</text>
<text x="624.30" y="384.00" font-size="8" font-weight="normal" text-anchor="start" fill="#111" >r = 0.55</text>
<text x="624.30" y="393.60" font-size="8" font-weight="normal" text-anchor="start" fill="#111" >p = 0.0002</text>
<text x="487.60" y="311.50" font-size="10.5" font-weight="bold" text-anchor="start" fill="#111" stroke="#111" stroke-width="0.2" >F</text>
<path d="M547.90,408.80 L552.10,408.80 L550.00,405.10 Z" fill="#8c1515"/>
<path d="M552.00,411.70 L556.20,411.70 L554.10,408.00 Z" fill="#8c1515"/>
<path d="M564.80,422.80 L569.00,422.80 L566.90,419.10 Z" fill="#8c1515"/>
<path d="M551.00,427.50 L555.20,427.50 L553.10,423.80 Z" fill="#8c1515"/>
<path d="M511.70,435.10 L515.90,435.10 L513.80,431.40 Z" fill="#8c1515"/>
<path d="M511.70,437.40 L515.90,437.40 L513.80,433.70 Z" fill="#8c1515"/>
<path d="M511.70,440.90 L515.90,440.90 L513.80,437.20 Z" fill="#8c1515"/>
<path d="M558.40,442.10 L562.60,442.10 L560.50,438.40 Z" fill="#8c1515"/>
<path d="M560.70,443.60 L564.90,443.60 L562.80,439.90 Z" fill="#8c1515"/>
<path d="M568.90,438.90 L573.10,438.90 L571.00,435.20 Z" fill="#8c1515"/>
<path d="M572.00,441.70 L576.20,441.70 L574.10,438.00 Z" fill="#8c1515"/>
<path d="M533.50,446.40 L537.70,446.40 L535.60,442.70 Z" fill="#8c1515"/>
<path d="M540.50,447.10 L544.70,447.10 L542.60,443.40 Z" fill="#8c1515"/>
<path d="M580.90,451.40 L585.10,451.40 L583.00,447.70 Z" fill="#8c1515"/>
<path d="M513.40,449.70 L517.60,449.70 L515.50,446.00 Z" fill="#8c1515"/>
<path d="M511.70,452.00 L515.90,452.00 L513.80,448.30 Z" fill="#8c1515"/>
<path d="M519.80,451.40 L524.00,451.40 L521.90,447.70 Z" fill="#8c1515"/>
<path d="M518.10,454.90 L522.30,454.90 L520.20,451.20 Z" fill="#8c1515"/>
<path d="M527.70,454.90 L531.90,454.90 L529.80,451.20 Z" fill="#8c1515"/>
<path d="M511.70,458.40 L515.90,458.40 L513.80,454.70 Z" fill="#8c1515"/>
<path d="M511.70,460.20 L515.90,460.20 L513.80,456.50 Z" fill="#8c1515"/>
<path d="M524.50,458.80 L528.70,458.80 L526.60,455.10 Z" fill="#8c1515"/>
<path d="M517.10,462.50 L521.30,462.50 L519.20,458.80 Z" fill="#8c1515"/>
<path d="M522.50,464.60 L526.70,464.60 L524.60,460.90 Z" fill="#8c1515"/>
<path d="M511.70,466.00 L515.90,466.00 L513.80,462.30 Z" fill="#8c1515"/>
<path d="M513.40,467.20 L517.60,467.20 L515.50,463.50 Z" fill="#8c1515"/>
<path d="M511.70,468.40 L515.90,468.40 L513.80,464.70 Z" fill="#8c1515"/>
<path d="M527.70,468.10 L531.90,468.10 L529.80,464.40 Z" fill="#8c1515"/>
<path d="M513.40,472.50 L517.60,472.50 L515.50,468.80 Z" fill="#8c1515"/>
<path d="M516.70,473.60 L520.90,473.60 L518.80,469.90 Z" fill="#8c1515"/>
<path d="M511.70,474.80 L515.90,474.80 L513.80,471.10 Z" fill="#8c1515"/>
<path d="M630.40,411.70 L634.60,411.70 L632.50,408.00 Z" fill="#8c1515"/>
<path d="M601.50,420.30 L605.70,420.30 L603.60,416.60 Z" fill="#8c1515"/>
<line x1="27.60" y1="652.30" x2="27.60" y2="763.60" stroke="#444444" stroke-width="1.0"/>
<line x1="23.60" y1="759.60" x2="188.60" y2="759.60" stroke="#444444" stroke-width="1.0"/>
<line x1="23.60" y1="759.60" x2="27.60" y2="759.60" stroke="#444444" stroke-width="1.0"/>
<text x="21.30" y="762.20" font-size="8" font-weight="bold" text-anchor="end" fill="#111" stroke="#111" stroke-width="0.35" >0</text>
<line x1="23.60" y1="732.90" x2="27.60" y2="732.90" stroke="#444444" stroke-width="1.0"/>
<text x="21.30" y="735.50" font-size="8" font-weight="bold" text-anchor="end" fill="#111" stroke="#111" stroke-width="0.35" >5</text>
<line x1="23.60" y1="706.20" x2="27.60" y2="706.20" stroke="#444444" stroke-width="1.0"/>
<text x="21.30" y="708.80" font-size="8" font-weight="bold" text-anchor="end" fill="#111" stroke="#111" stroke-width="0.35" >10</text>
<line x1="23.60" y1="679.50" x2="27.60" y2="679.50" stroke="#444444" stroke-width="1.0"/>
<text x="21.30" y="682.10" font-size="8" font-weight="bold" text-anchor="end" fill="#111" stroke="#111" stroke-width="0.35" >15</text>
<line x1="23.60" y1="652.80" x2="27.60" y2="652.80" stroke="#444444" stroke-width="1.0"/>
<text x="21.30" y="655.40" font-size="8" font-weight="bold" text-anchor="end" fill="#111" stroke="#111" stroke-width="0.35" >20</text>
<line x1="27.60" y1="759.60" x2="27.60" y2="763.60" stroke="#444444" stroke-width="1.0"/>
<text x="27.60" y="773.00" font-size="8" font-weight="bold" text-anchor="middle" fill="#111" stroke="#111" stroke-width="0.35" >0</text>
<line x1="67.72" y1="759.60" x2="67.72" y2="763.60" stroke="#444444" stroke-width="1.0"/>
<text x="67.72" y="773.00" font-size="8" font-weight="bold" text-anchor="middle" fill="#111" stroke="#111" stroke-width="0.35" >50</text>
<line x1="107.85" y1="759.60" x2="107.85" y2="763.60" stroke="#444444" stroke-width="1.0"/>
<text x="107.85" y="773.00" font-size="8" font-weight="bold" text-anchor="middle" fill="#111" stroke="#111" stroke-width="0.35" >100</text>
<line x1="147.97" y1="759.60" x2="147.97" y2="763.60" stroke="#444444" stroke-width="1.0"/>
<text x="147.97" y="773.00" font-size="8" font-weight="bold" text-anchor="middle" fill="#111" stroke="#111" stroke-width="0.35" >150</text>
<line x1="188.10" y1="759.60" x2="188.10" y2="763.60" stroke="#444444" stroke-width="1.0"/>
<text x="188.10" y="773.00" font-size="8" font-weight="bold" text-anchor="middle" fill="#111" stroke="#111" stroke-width="0.35" >200</text>
<text x="107.85" y="786.10" font-size="8.5" font-weight="bold" text-anchor="middle" fill="#111" stroke="#111" stroke-width="0.2" >Elastase (ng/ml)</text>
<text x="7.30" y="704.80" font-size="8.5" font-weight="bold" text-anchor="middle" fill="#111" stroke="#111" stroke-width="0.2" transform="rotate(-90 7.30 704.80)">Butyrate (µmol/g)</text>
<text x="114.20" y="649.70" font-size="8" font-weight="normal" text-anchor="start" fill="#111" >r = 0.69</text>
<text x="114.20" y="659.30" font-size="8" font-weight="normal" text-anchor="start" fill="#111" >p = &lt;0.0001</text>
<text x="0.50" y="618.20" font-size="10.5" font-weight="bold" text-anchor="start" fill="#111" stroke="#111" stroke-width="0.2" >G</text>
<path d="M61.30,669.70 L65.50,669.70 L63.40,666.00 Z" fill="#8c1515"/>
<path d="M85.40,672.10 L89.60,672.10 L87.50,668.40 Z" fill="#8c1515"/>
<path d="M78.30,692.70 L82.50,692.70 L80.40,689.00 Z" fill="#8c1515"/>
<path d="M46.90,703.30 L51.10,703.30 L49.00,699.60 Z" fill="#8c1515"/>
<path d="M64.60,711.40 L68.80,711.40 L66.70,707.70 Z" fill="#8c1515"/>
<path d="M82.10,709.40 L86.30,709.40 L84.20,705.70 Z" fill="#8c1515"/>
<path d="M82.10,719.60 L86.30,719.60 L84.20,715.90 Z" fill="#8c1515"/>
<path d="M35.70,723.70 L39.90,723.70 L37.80,720.00 Z" fill="#8c1515"/>
<path d="M41.30,722.50 L45.50,722.50 L43.40,718.80 Z" fill="#8c1515"/>
<path d="M54.30,721.90 L58.50,721.90 L56.40,718.20 Z" fill="#8c1515"/>
<path d="M25.10,727.00 L29.30,727.00 L27.20,723.30 Z" fill="#8c1515"/>
<path d="M71.60,726.60 L75.80,726.60 L73.70,722.90 Z" fill="#8c1515"/>
<path d="M33.30,730.90 L37.50,730.90 L35.40,727.20 Z" fill="#8c1515"/>
<path d="M65.20,732.50 L69.40,732.50 L67.30,728.80 Z" fill="#8c1515"/>
<path d="M25.10,736.00 L29.30,736.00 L27.20,732.30 Z" fill="#8c1515"/>
<path d="M31.00,735.60 L35.20,735.60 L33.10,731.90 Z" fill="#8c1515"/>
<path d="M31.70,740.30 L35.90,740.30 L33.80,736.60 Z" fill="#8c1515"/>
<path d="M144.00,670.30 L148.20,670.30 L146.10,666.60 Z" fill="#8c1515"/>
<path d="M115.30,710.50 L119.50,710.50 L117.40,706.80 Z" fill="#8c1515"/>
<path d="M94.40,745.80 L98.60,745.80 L96.50,742.10 Z" fill="#8c1515"/>
<path d="M74.30,755.30 L78.50,755.30 L76.40,751.60 Z" fill="#8c1515"/>
<path d="M36.60,742.60 L40.80,742.60 L38.70,738.90 Z" fill="#8c1515"/>
<path d="M25.20,743.20 L29.40,743.20 L27.30,739.50 Z" fill="#8c1515"/>
<path d="M25.20,748.40 L29.40,748.40 L27.30,744.70 Z" fill="#8c1515"/>
<path d="M25.20,749.90 L29.40,749.90 L27.30,746.20 Z" fill="#8c1515"/>
<path d="M26.10,754.20 L30.30,754.20 L28.20,750.50 Z" fill="#8c1515"/>
<path d="M26.70,755.40 L30.90,755.40 L28.80,751.70 Z" fill="#8c1515"/>
<path d="M25.20,758.90 L29.40,758.90 L27.30,755.20 Z" fill="#8c1515"/>
<path d="M25.20,761.30 L29.40,761.30 L27.30,757.60 Z" fill="#8c1515"/>
<path d="M26.70,761.30 L30.90,761.30 L28.80,757.60 Z" fill="#8c1515"/>
<path d="M30.20,761.80 L34.40,761.80 L32.30,758.10 Z" fill="#8c1515"/>
<path d="M38.00,760.70 L42.20,760.70 L40.10,757.00 Z" fill="#8c1515"/>
<path d="M41.50,756.90 L45.70,756.90 L43.60,753.20 Z" fill="#8c1515"/>
</svg>
</body></html>
